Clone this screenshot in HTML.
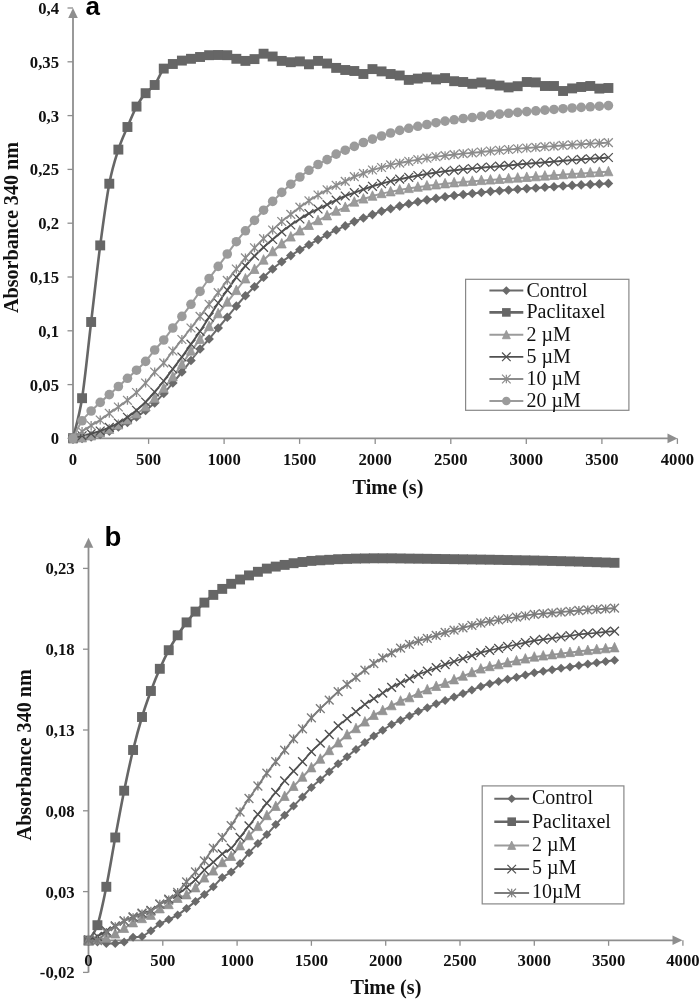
<!DOCTYPE html><html><head><meta charset="utf-8"><style>html,body{margin:0;padding:0;background:#fff}svg{display:block;filter:blur(0.4px)}</style></head><body><svg width="699" height="999" viewBox="0 0 699 999"><rect width="699" height="999" fill="#fff"/><line x1="73.0" y1="14.0" x2="73.0" y2="438.4" stroke="#8e8e8e" stroke-width="1.8"/><path d="M73.0 8.0L77.8 18.0L68.2 18.0Z" fill="#8e8e8e"/><line x1="72.0" y1="438.4" x2="671.5" y2="438.4" stroke="#8e8e8e" stroke-width="1.8"/><path d="M677.5 438.4L667.5 433.6L667.5 443.2Z" fill="#8e8e8e"/><line x1="67.5" y1="438.4" x2="73.0" y2="438.4" stroke="#8e8e8e" stroke-width="1.3"/><line x1="67.5" y1="384.6" x2="73.0" y2="384.6" stroke="#8e8e8e" stroke-width="1.3"/><line x1="67.5" y1="330.8" x2="73.0" y2="330.8" stroke="#8e8e8e" stroke-width="1.3"/><line x1="67.5" y1="277.0" x2="73.0" y2="277.0" stroke="#8e8e8e" stroke-width="1.3"/><line x1="67.5" y1="223.2" x2="73.0" y2="223.2" stroke="#8e8e8e" stroke-width="1.3"/><line x1="67.5" y1="169.4" x2="73.0" y2="169.4" stroke="#8e8e8e" stroke-width="1.3"/><line x1="67.5" y1="115.6" x2="73.0" y2="115.6" stroke="#8e8e8e" stroke-width="1.3"/><line x1="67.5" y1="61.8" x2="73.0" y2="61.8" stroke="#8e8e8e" stroke-width="1.3"/><line x1="67.5" y1="8.0" x2="73.0" y2="8.0" stroke="#8e8e8e" stroke-width="1.3"/><line x1="73.0" y1="438.4" x2="73.0" y2="443.9" stroke="#8e8e8e" stroke-width="1.3"/><line x1="148.6" y1="438.4" x2="148.6" y2="443.9" stroke="#8e8e8e" stroke-width="1.3"/><line x1="224.1" y1="438.4" x2="224.1" y2="443.9" stroke="#8e8e8e" stroke-width="1.3"/><line x1="299.6" y1="438.4" x2="299.6" y2="443.9" stroke="#8e8e8e" stroke-width="1.3"/><line x1="375.2" y1="438.4" x2="375.2" y2="443.9" stroke="#8e8e8e" stroke-width="1.3"/><line x1="450.8" y1="438.4" x2="450.8" y2="443.9" stroke="#8e8e8e" stroke-width="1.3"/><line x1="526.3" y1="438.4" x2="526.3" y2="443.9" stroke="#8e8e8e" stroke-width="1.3"/><line x1="601.9" y1="438.4" x2="601.9" y2="443.9" stroke="#8e8e8e" stroke-width="1.3"/><line x1="677.4" y1="438.4" x2="677.4" y2="443.9" stroke="#8e8e8e" stroke-width="1.3"/><line x1="88.5" y1="543.8" x2="88.5" y2="972.6" stroke="#8e8e8e" stroke-width="1.8"/><path d="M88.5 537.8L93.3 547.8L83.7 547.8Z" fill="#8e8e8e"/><line x1="87.5" y1="940.3" x2="676.5" y2="940.3" stroke="#8e8e8e" stroke-width="1.8"/><path d="M682.5 940.3L672.5 935.5L672.5 945.1Z" fill="#8e8e8e"/><line x1="83.0" y1="972.4" x2="88.5" y2="972.4" stroke="#8e8e8e" stroke-width="1.3"/><line x1="83.0" y1="891.6" x2="88.5" y2="891.6" stroke="#8e8e8e" stroke-width="1.3"/><line x1="83.0" y1="810.8" x2="88.5" y2="810.8" stroke="#8e8e8e" stroke-width="1.3"/><line x1="83.0" y1="730.0" x2="88.5" y2="730.0" stroke="#8e8e8e" stroke-width="1.3"/><line x1="83.0" y1="649.2" x2="88.5" y2="649.2" stroke="#8e8e8e" stroke-width="1.3"/><line x1="83.0" y1="568.4" x2="88.5" y2="568.4" stroke="#8e8e8e" stroke-width="1.3"/><line x1="88.5" y1="940.3" x2="88.5" y2="945.8" stroke="#8e8e8e" stroke-width="1.3"/><line x1="162.8" y1="940.3" x2="162.8" y2="945.8" stroke="#8e8e8e" stroke-width="1.3"/><line x1="237.1" y1="940.3" x2="237.1" y2="945.8" stroke="#8e8e8e" stroke-width="1.3"/><line x1="311.4" y1="940.3" x2="311.4" y2="945.8" stroke="#8e8e8e" stroke-width="1.3"/><line x1="385.7" y1="940.3" x2="385.7" y2="945.8" stroke="#8e8e8e" stroke-width="1.3"/><line x1="460.0" y1="940.3" x2="460.0" y2="945.8" stroke="#8e8e8e" stroke-width="1.3"/><line x1="534.3" y1="940.3" x2="534.3" y2="945.8" stroke="#8e8e8e" stroke-width="1.3"/><line x1="608.6" y1="940.3" x2="608.6" y2="945.8" stroke="#8e8e8e" stroke-width="1.3"/><line x1="682.9" y1="940.3" x2="682.9" y2="945.8" stroke="#8e8e8e" stroke-width="1.3"/><text x="59.0" y="444.4" text-anchor="end" style="font-family:'Liberation Serif',serif;font-weight:bold;font-size:16.7px;fill:#111">0</text><text x="59.0" y="390.6" text-anchor="end" style="font-family:'Liberation Serif',serif;font-weight:bold;font-size:16.7px;fill:#111">0,05</text><text x="59.0" y="336.8" text-anchor="end" style="font-family:'Liberation Serif',serif;font-weight:bold;font-size:16.7px;fill:#111">0,1</text><text x="59.0" y="283.0" text-anchor="end" style="font-family:'Liberation Serif',serif;font-weight:bold;font-size:16.7px;fill:#111">0,15</text><text x="59.0" y="229.2" text-anchor="end" style="font-family:'Liberation Serif',serif;font-weight:bold;font-size:16.7px;fill:#111">0,2</text><text x="59.0" y="175.4" text-anchor="end" style="font-family:'Liberation Serif',serif;font-weight:bold;font-size:16.7px;fill:#111">0,25</text><text x="59.0" y="121.6" text-anchor="end" style="font-family:'Liberation Serif',serif;font-weight:bold;font-size:16.7px;fill:#111">0,3</text><text x="59.0" y="67.8" text-anchor="end" style="font-family:'Liberation Serif',serif;font-weight:bold;font-size:16.7px;fill:#111">0,35</text><text x="59.0" y="14.0" text-anchor="end" style="font-family:'Liberation Serif',serif;font-weight:bold;font-size:16.7px;fill:#111">0,4</text><text x="73.0" y="465" text-anchor="middle" style="font-family:'Liberation Serif',serif;font-weight:bold;font-size:16.7px;fill:#111">0</text><text x="148.6" y="465" text-anchor="middle" style="font-family:'Liberation Serif',serif;font-weight:bold;font-size:16.7px;fill:#111">500</text><text x="224.1" y="465" text-anchor="middle" style="font-family:'Liberation Serif',serif;font-weight:bold;font-size:16.7px;fill:#111">1000</text><text x="299.6" y="465" text-anchor="middle" style="font-family:'Liberation Serif',serif;font-weight:bold;font-size:16.7px;fill:#111">1500</text><text x="375.2" y="465" text-anchor="middle" style="font-family:'Liberation Serif',serif;font-weight:bold;font-size:16.7px;fill:#111">2000</text><text x="450.8" y="465" text-anchor="middle" style="font-family:'Liberation Serif',serif;font-weight:bold;font-size:16.7px;fill:#111">2500</text><text x="526.3" y="465" text-anchor="middle" style="font-family:'Liberation Serif',serif;font-weight:bold;font-size:16.7px;fill:#111">3000</text><text x="601.9" y="465" text-anchor="middle" style="font-family:'Liberation Serif',serif;font-weight:bold;font-size:16.7px;fill:#111">3500</text><text x="677.4" y="465" text-anchor="middle" style="font-family:'Liberation Serif',serif;font-weight:bold;font-size:16.7px;fill:#111">4000</text><text x="74.6" y="978.3" text-anchor="end" style="font-family:'Liberation Serif',serif;font-weight:bold;font-size:16.7px;fill:#111">-0,02</text><text x="74.6" y="897.5" text-anchor="end" style="font-family:'Liberation Serif',serif;font-weight:bold;font-size:16.7px;fill:#111">0,03</text><text x="74.6" y="816.7" text-anchor="end" style="font-family:'Liberation Serif',serif;font-weight:bold;font-size:16.7px;fill:#111">0,08</text><text x="74.6" y="735.9" text-anchor="end" style="font-family:'Liberation Serif',serif;font-weight:bold;font-size:16.7px;fill:#111">0,13</text><text x="74.6" y="655.1" text-anchor="end" style="font-family:'Liberation Serif',serif;font-weight:bold;font-size:16.7px;fill:#111">0,18</text><text x="74.6" y="574.3" text-anchor="end" style="font-family:'Liberation Serif',serif;font-weight:bold;font-size:16.7px;fill:#111">0,23</text><text x="88.5" y="965.6" text-anchor="middle" style="font-family:'Liberation Serif',serif;font-weight:bold;font-size:16.7px;fill:#111">0</text><text x="162.8" y="965.6" text-anchor="middle" style="font-family:'Liberation Serif',serif;font-weight:bold;font-size:16.7px;fill:#111">500</text><text x="237.1" y="965.6" text-anchor="middle" style="font-family:'Liberation Serif',serif;font-weight:bold;font-size:16.7px;fill:#111">1000</text><text x="311.4" y="965.6" text-anchor="middle" style="font-family:'Liberation Serif',serif;font-weight:bold;font-size:16.7px;fill:#111">1500</text><text x="385.7" y="965.6" text-anchor="middle" style="font-family:'Liberation Serif',serif;font-weight:bold;font-size:16.7px;fill:#111">2000</text><text x="460.0" y="965.6" text-anchor="middle" style="font-family:'Liberation Serif',serif;font-weight:bold;font-size:16.7px;fill:#111">2500</text><text x="534.3" y="965.6" text-anchor="middle" style="font-family:'Liberation Serif',serif;font-weight:bold;font-size:16.7px;fill:#111">3000</text><text x="608.6" y="965.6" text-anchor="middle" style="font-family:'Liberation Serif',serif;font-weight:bold;font-size:16.7px;fill:#111">3500</text><text x="682.9" y="965.6" text-anchor="middle" style="font-family:'Liberation Serif',serif;font-weight:bold;font-size:16.7px;fill:#111">4000</text><text x="388" y="493.7" text-anchor="middle" style="font-family:'Liberation Serif',serif;font-weight:bold;font-size:20.2px;fill:#111">Time (s)</text><text x="386" y="993.6" text-anchor="middle" style="font-family:'Liberation Serif',serif;font-weight:bold;font-size:20.2px;fill:#111">Time (s)</text><text transform="translate(17.6 227.5) rotate(-90)" text-anchor="middle" style="font-family:'Liberation Serif',serif;font-weight:bold;font-size:20.15px;fill:#111">Absorbance 340 nm</text><text transform="translate(31.2 754.8) rotate(-90)" text-anchor="middle" style="font-family:'Liberation Serif',serif;font-weight:bold;font-size:20.15px;fill:#111">Absorbance 340 nm</text><text x="85.5" y="15.0" style="font-family:'Liberation Sans',sans-serif;font-weight:bold;font-size:26px;fill:#000">a</text><text x="104.4" y="546.4" style="font-family:'Liberation Sans',sans-serif;font-weight:bold;font-size:27.6px;fill:#000">b</text><path d="M73.00 438.40C74.51 438.40 79.05 438.63 82.08 438.40C85.10 438.17 88.12 437.65 91.15 437.00C94.18 436.35 97.20 435.47 100.22 434.50C103.25 433.53 106.27 432.45 109.30 431.20C112.33 429.95 115.35 428.45 118.38 427.00C121.40 425.55 124.42 424.17 127.45 422.50C130.47 420.83 133.50 419.00 136.52 417.00C139.55 415.00 142.57 412.83 145.60 410.50C148.62 408.17 151.65 405.83 154.68 403.00C157.70 400.17 160.72 396.83 163.75 393.50C166.78 390.17 169.80 386.58 172.82 383.00C175.85 379.42 178.87 375.75 181.90 372.00C184.92 368.25 187.95 364.33 190.97 360.50C194.00 356.67 197.02 352.58 200.05 349.00C203.07 345.42 206.10 342.50 209.12 339.00C212.15 335.50 215.17 331.63 218.20 328.00C221.22 324.37 224.25 320.85 227.27 317.20C230.30 313.55 233.32 309.67 236.35 306.10C239.38 302.53 242.40 299.02 245.42 295.80C248.45 292.58 251.47 289.88 254.50 286.80C257.52 283.72 260.55 280.27 263.57 277.30C266.60 274.33 269.62 271.58 272.65 269.00C275.67 266.42 278.70 264.03 281.73 261.80C284.75 259.57 287.77 257.60 290.80 255.60C293.82 253.60 296.85 251.62 299.88 249.80C302.90 247.98 305.93 246.40 308.95 244.70C311.97 243.00 315.00 241.25 318.02 239.60C321.05 237.95 324.07 236.40 327.10 234.80C330.12 233.20 333.15 231.48 336.17 230.00C339.20 228.52 342.23 227.30 345.25 225.90C348.27 224.50 351.30 222.92 354.32 221.60C357.35 220.28 360.38 219.17 363.40 218.00C366.42 216.83 369.45 215.72 372.47 214.60C375.50 213.48 378.52 212.28 381.55 211.30C384.57 210.32 387.60 209.57 390.62 208.70C393.65 207.83 396.68 206.92 399.70 206.10C402.72 205.28 405.75 204.53 408.77 203.80C411.80 203.07 414.82 202.35 417.85 201.70C420.87 201.05 423.90 200.45 426.92 199.90C429.95 199.35 432.98 198.92 436.00 198.40C439.02 197.88 442.05 197.28 445.07 196.80C448.10 196.32 451.12 195.88 454.15 195.50C457.17 195.12 460.20 194.83 463.22 194.50C466.25 194.17 469.27 193.83 472.30 193.50C475.32 193.17 478.35 192.85 481.37 192.50C484.40 192.15 487.42 191.70 490.45 191.40C493.48 191.10 496.50 190.93 499.52 190.70C502.55 190.47 505.57 190.23 508.60 190.00C511.62 189.77 514.65 189.53 517.67 189.30C520.70 189.07 523.73 188.82 526.75 188.60C529.77 188.38 532.80 188.17 535.83 187.96C538.85 187.75 541.88 187.53 544.90 187.32C547.92 187.11 550.95 186.89 553.97 186.68C557.00 186.47 560.02 186.25 563.05 186.04C566.07 185.83 569.10 185.59 572.12 185.40C575.15 185.21 578.17 185.07 581.20 184.90C584.22 184.73 587.25 184.57 590.27 184.40C593.30 184.23 596.32 184.07 599.35 183.90C602.37 183.73 606.91 183.48 608.42 183.40" fill="none" stroke="#6a6a6a" stroke-width="2.00" stroke-linejoin="round"/><path d="M73.00 433.60L77.80 438.40L73.00 443.20L68.20 438.40Z" fill="#6a6a6a"/><path d="M82.08 433.60L86.88 438.40L82.08 443.20L77.28 438.40Z" fill="#6a6a6a"/><path d="M91.15 432.20L95.95 437.00L91.15 441.80L86.35 437.00Z" fill="#6a6a6a"/><path d="M100.22 429.70L105.02 434.50L100.22 439.30L95.42 434.50Z" fill="#6a6a6a"/><path d="M109.30 426.40L114.10 431.20L109.30 436.00L104.50 431.20Z" fill="#6a6a6a"/><path d="M118.38 422.20L123.17 427.00L118.38 431.80L113.58 427.00Z" fill="#6a6a6a"/><path d="M127.45 417.70L132.25 422.50L127.45 427.30L122.65 422.50Z" fill="#6a6a6a"/><path d="M136.52 412.20L141.32 417.00L136.52 421.80L131.72 417.00Z" fill="#6a6a6a"/><path d="M145.60 405.70L150.40 410.50L145.60 415.30L140.80 410.50Z" fill="#6a6a6a"/><path d="M154.68 398.20L159.48 403.00L154.68 407.80L149.88 403.00Z" fill="#6a6a6a"/><path d="M163.75 388.70L168.55 393.50L163.75 398.30L158.95 393.50Z" fill="#6a6a6a"/><path d="M172.82 378.20L177.62 383.00L172.82 387.80L168.02 383.00Z" fill="#6a6a6a"/><path d="M181.90 367.20L186.70 372.00L181.90 376.80L177.10 372.00Z" fill="#6a6a6a"/><path d="M190.97 355.70L195.78 360.50L190.97 365.30L186.17 360.50Z" fill="#6a6a6a"/><path d="M200.05 344.20L204.85 349.00L200.05 353.80L195.25 349.00Z" fill="#6a6a6a"/><path d="M209.12 334.20L213.93 339.00L209.12 343.80L204.32 339.00Z" fill="#6a6a6a"/><path d="M218.20 323.20L223.00 328.00L218.20 332.80L213.40 328.00Z" fill="#6a6a6a"/><path d="M227.27 312.40L232.07 317.20L227.27 322.00L222.47 317.20Z" fill="#6a6a6a"/><path d="M236.35 301.30L241.15 306.10L236.35 310.90L231.55 306.10Z" fill="#6a6a6a"/><path d="M245.42 291.00L250.22 295.80L245.42 300.60L240.62 295.80Z" fill="#6a6a6a"/><path d="M254.50 282.00L259.30 286.80L254.50 291.60L249.70 286.80Z" fill="#6a6a6a"/><path d="M263.57 272.50L268.38 277.30L263.57 282.10L258.77 277.30Z" fill="#6a6a6a"/><path d="M272.65 264.20L277.45 269.00L272.65 273.80L267.85 269.00Z" fill="#6a6a6a"/><path d="M281.73 257.00L286.53 261.80L281.73 266.60L276.93 261.80Z" fill="#6a6a6a"/><path d="M290.80 250.80L295.60 255.60L290.80 260.40L286.00 255.60Z" fill="#6a6a6a"/><path d="M299.88 245.00L304.68 249.80L299.88 254.60L295.07 249.80Z" fill="#6a6a6a"/><path d="M308.95 239.90L313.75 244.70L308.95 249.50L304.15 244.70Z" fill="#6a6a6a"/><path d="M318.02 234.80L322.82 239.60L318.02 244.40L313.22 239.60Z" fill="#6a6a6a"/><path d="M327.10 230.00L331.90 234.80L327.10 239.60L322.30 234.80Z" fill="#6a6a6a"/><path d="M336.17 225.20L340.97 230.00L336.17 234.80L331.37 230.00Z" fill="#6a6a6a"/><path d="M345.25 221.10L350.05 225.90L345.25 230.70L340.45 225.90Z" fill="#6a6a6a"/><path d="M354.32 216.80L359.12 221.60L354.32 226.40L349.52 221.60Z" fill="#6a6a6a"/><path d="M363.40 213.20L368.20 218.00L363.40 222.80L358.60 218.00Z" fill="#6a6a6a"/><path d="M372.47 209.80L377.27 214.60L372.47 219.40L367.67 214.60Z" fill="#6a6a6a"/><path d="M381.55 206.50L386.35 211.30L381.55 216.10L376.75 211.30Z" fill="#6a6a6a"/><path d="M390.62 203.90L395.43 208.70L390.62 213.50L385.82 208.70Z" fill="#6a6a6a"/><path d="M399.70 201.30L404.50 206.10L399.70 210.90L394.90 206.10Z" fill="#6a6a6a"/><path d="M408.77 199.00L413.57 203.80L408.77 208.60L403.97 203.80Z" fill="#6a6a6a"/><path d="M417.85 196.90L422.65 201.70L417.85 206.50L413.05 201.70Z" fill="#6a6a6a"/><path d="M426.92 195.10L431.72 199.90L426.92 204.70L422.12 199.90Z" fill="#6a6a6a"/><path d="M436.00 193.60L440.80 198.40L436.00 203.20L431.20 198.40Z" fill="#6a6a6a"/><path d="M445.07 192.00L449.88 196.80L445.07 201.60L440.27 196.80Z" fill="#6a6a6a"/><path d="M454.15 190.70L458.95 195.50L454.15 200.30L449.35 195.50Z" fill="#6a6a6a"/><path d="M463.22 189.70L468.02 194.50L463.22 199.30L458.42 194.50Z" fill="#6a6a6a"/><path d="M472.30 188.70L477.10 193.50L472.30 198.30L467.50 193.50Z" fill="#6a6a6a"/><path d="M481.37 187.70L486.17 192.50L481.37 197.30L476.57 192.50Z" fill="#6a6a6a"/><path d="M490.45 186.60L495.25 191.40L490.45 196.20L485.65 191.40Z" fill="#6a6a6a"/><path d="M499.52 185.90L504.32 190.70L499.52 195.50L494.72 190.70Z" fill="#6a6a6a"/><path d="M508.60 185.20L513.40 190.00L508.60 194.80L503.80 190.00Z" fill="#6a6a6a"/><path d="M517.67 184.50L522.47 189.30L517.67 194.10L512.88 189.30Z" fill="#6a6a6a"/><path d="M526.75 183.80L531.55 188.60L526.75 193.40L521.95 188.60Z" fill="#6a6a6a"/><path d="M535.83 183.16L540.62 187.96L535.83 192.76L531.03 187.96Z" fill="#6a6a6a"/><path d="M544.90 182.52L549.70 187.32L544.90 192.12L540.10 187.32Z" fill="#6a6a6a"/><path d="M553.97 181.88L558.77 186.68L553.97 191.48L549.17 186.68Z" fill="#6a6a6a"/><path d="M563.05 181.24L567.85 186.04L563.05 190.84L558.25 186.04Z" fill="#6a6a6a"/><path d="M572.12 180.60L576.92 185.40L572.12 190.20L567.33 185.40Z" fill="#6a6a6a"/><path d="M581.20 180.10L586.00 184.90L581.20 189.70L576.40 184.90Z" fill="#6a6a6a"/><path d="M590.27 179.60L595.07 184.40L590.27 189.20L585.48 184.40Z" fill="#6a6a6a"/><path d="M599.35 179.10L604.15 183.90L599.35 188.70L594.55 183.90Z" fill="#6a6a6a"/><path d="M608.42 178.60L613.22 183.40L608.42 188.20L603.62 183.40Z" fill="#6a6a6a"/><path d="M73.00 438.20C74.51 431.53 79.05 417.57 82.08 398.20C85.10 378.83 88.12 347.47 91.15 322.00C94.18 296.53 97.20 268.45 100.22 245.40C103.25 222.35 106.27 199.67 109.30 183.70C112.33 167.73 115.35 159.05 118.38 149.60C121.40 140.15 124.42 134.17 127.45 127.00C130.47 119.83 133.50 112.23 136.52 106.60C139.55 100.97 142.57 96.80 145.60 93.20C148.62 89.60 151.65 89.10 154.68 85.00C157.70 80.90 160.72 72.10 163.75 68.60C166.78 65.10 169.80 65.33 172.82 64.00C175.85 62.67 178.87 61.47 181.90 60.60C184.92 59.73 187.95 59.40 190.97 58.80C194.00 58.20 197.02 57.60 200.05 57.00C203.07 56.40 206.10 55.53 209.12 55.20C212.15 54.87 215.17 55.00 218.20 55.00C221.22 55.00 224.25 54.57 227.27 55.20C230.30 55.83 233.32 57.85 236.35 58.80C239.38 59.75 242.40 60.85 245.42 60.90C248.45 60.95 251.47 60.30 254.50 59.10C257.52 57.90 260.55 54.13 263.57 53.70C266.60 53.27 269.62 55.30 272.65 56.50C275.67 57.70 278.70 59.95 281.73 60.90C284.75 61.85 287.77 62.12 290.80 62.20C293.82 62.28 296.85 61.05 299.88 61.40C302.90 61.75 305.93 64.38 308.95 64.30C311.97 64.22 315.00 61.03 318.02 60.90C321.05 60.77 324.07 62.33 327.10 63.50C330.12 64.67 333.15 66.82 336.17 67.90C339.20 68.98 342.23 69.48 345.25 70.00C348.27 70.52 351.30 70.33 354.32 71.00C357.35 71.67 360.38 74.32 363.40 74.00C366.42 73.68 369.45 69.53 372.47 69.10C375.50 68.67 378.52 70.58 381.55 71.40C384.57 72.22 387.60 73.32 390.62 74.00C393.65 74.68 396.68 74.52 399.70 75.50C402.72 76.48 405.75 79.38 408.77 79.90C411.80 80.42 414.82 79.03 417.85 78.60C420.87 78.17 423.90 77.17 426.92 77.30C429.95 77.43 432.98 79.27 436.00 79.40C439.02 79.53 442.05 77.80 445.07 78.10C448.10 78.40 451.12 80.55 454.15 81.20C457.17 81.85 460.20 81.57 463.22 82.00C466.25 82.43 469.27 83.72 472.30 83.80C475.32 83.88 478.35 82.42 481.37 82.50C484.40 82.58 487.42 83.78 490.45 84.30C493.48 84.82 496.50 85.08 499.52 85.60C502.55 86.12 505.57 87.30 508.60 87.40C511.62 87.50 514.65 87.10 517.67 86.20C520.70 85.30 523.73 82.63 526.75 82.00C529.77 81.37 532.80 81.73 535.83 82.40C538.85 83.07 541.88 85.40 544.90 86.00C547.92 86.60 550.95 85.17 553.97 86.00C557.00 86.83 560.02 90.60 563.05 91.00C566.07 91.40 569.10 89.07 572.12 88.40C575.15 87.73 578.17 87.40 581.20 87.00C584.22 86.60 587.25 85.73 590.27 86.00C593.30 86.27 596.32 88.27 599.35 88.60C602.37 88.93 606.91 88.10 608.42 88.00" fill="none" stroke="#666666" stroke-width="2.60" stroke-linejoin="round"/><rect x="68.05" y="433.25" width="9.90" height="9.90" fill="#666666"/><rect x="77.12" y="393.25" width="9.90" height="9.90" fill="#666666"/><rect x="86.20" y="317.05" width="9.90" height="9.90" fill="#666666"/><rect x="95.27" y="240.45" width="9.90" height="9.90" fill="#666666"/><rect x="104.35" y="178.75" width="9.90" height="9.90" fill="#666666"/><rect x="113.42" y="144.65" width="9.90" height="9.90" fill="#666666"/><rect x="122.50" y="122.05" width="9.90" height="9.90" fill="#666666"/><rect x="131.57" y="101.65" width="9.90" height="9.90" fill="#666666"/><rect x="140.65" y="88.25" width="9.90" height="9.90" fill="#666666"/><rect x="149.73" y="80.05" width="9.90" height="9.90" fill="#666666"/><rect x="158.80" y="63.65" width="9.90" height="9.90" fill="#666666"/><rect x="167.88" y="59.05" width="9.90" height="9.90" fill="#666666"/><rect x="176.95" y="55.65" width="9.90" height="9.90" fill="#666666"/><rect x="186.03" y="53.85" width="9.90" height="9.90" fill="#666666"/><rect x="195.10" y="52.05" width="9.90" height="9.90" fill="#666666"/><rect x="204.18" y="50.25" width="9.90" height="9.90" fill="#666666"/><rect x="213.25" y="50.05" width="9.90" height="9.90" fill="#666666"/><rect x="222.32" y="50.25" width="9.90" height="9.90" fill="#666666"/><rect x="231.40" y="53.85" width="9.90" height="9.90" fill="#666666"/><rect x="240.47" y="55.95" width="9.90" height="9.90" fill="#666666"/><rect x="249.55" y="54.15" width="9.90" height="9.90" fill="#666666"/><rect x="258.62" y="48.75" width="9.90" height="9.90" fill="#666666"/><rect x="267.70" y="51.55" width="9.90" height="9.90" fill="#666666"/><rect x="276.78" y="55.95" width="9.90" height="9.90" fill="#666666"/><rect x="285.85" y="57.25" width="9.90" height="9.90" fill="#666666"/><rect x="294.93" y="56.45" width="9.90" height="9.90" fill="#666666"/><rect x="304.00" y="59.35" width="9.90" height="9.90" fill="#666666"/><rect x="313.07" y="55.95" width="9.90" height="9.90" fill="#666666"/><rect x="322.15" y="58.55" width="9.90" height="9.90" fill="#666666"/><rect x="331.22" y="62.95" width="9.90" height="9.90" fill="#666666"/><rect x="340.30" y="65.05" width="9.90" height="9.90" fill="#666666"/><rect x="349.38" y="66.05" width="9.90" height="9.90" fill="#666666"/><rect x="358.45" y="69.05" width="9.90" height="9.90" fill="#666666"/><rect x="367.52" y="64.15" width="9.90" height="9.90" fill="#666666"/><rect x="376.60" y="66.45" width="9.90" height="9.90" fill="#666666"/><rect x="385.68" y="69.05" width="9.90" height="9.90" fill="#666666"/><rect x="394.75" y="70.55" width="9.90" height="9.90" fill="#666666"/><rect x="403.82" y="74.95" width="9.90" height="9.90" fill="#666666"/><rect x="412.90" y="73.65" width="9.90" height="9.90" fill="#666666"/><rect x="421.97" y="72.35" width="9.90" height="9.90" fill="#666666"/><rect x="431.05" y="74.45" width="9.90" height="9.90" fill="#666666"/><rect x="440.12" y="73.15" width="9.90" height="9.90" fill="#666666"/><rect x="449.20" y="76.25" width="9.90" height="9.90" fill="#666666"/><rect x="458.27" y="77.05" width="9.90" height="9.90" fill="#666666"/><rect x="467.35" y="78.85" width="9.90" height="9.90" fill="#666666"/><rect x="476.42" y="77.55" width="9.90" height="9.90" fill="#666666"/><rect x="485.50" y="79.35" width="9.90" height="9.90" fill="#666666"/><rect x="494.57" y="80.65" width="9.90" height="9.90" fill="#666666"/><rect x="503.65" y="82.45" width="9.90" height="9.90" fill="#666666"/><rect x="512.72" y="81.25" width="9.90" height="9.90" fill="#666666"/><rect x="521.80" y="77.05" width="9.90" height="9.90" fill="#666666"/><rect x="530.88" y="77.45" width="9.90" height="9.90" fill="#666666"/><rect x="539.95" y="81.05" width="9.90" height="9.90" fill="#666666"/><rect x="549.02" y="81.05" width="9.90" height="9.90" fill="#666666"/><rect x="558.10" y="86.05" width="9.90" height="9.90" fill="#666666"/><rect x="567.17" y="83.45" width="9.90" height="9.90" fill="#666666"/><rect x="576.25" y="82.05" width="9.90" height="9.90" fill="#666666"/><rect x="585.32" y="81.05" width="9.90" height="9.90" fill="#666666"/><rect x="594.40" y="83.65" width="9.90" height="9.90" fill="#666666"/><rect x="603.47" y="83.05" width="9.90" height="9.90" fill="#666666"/><path d="M73.00 438.80C74.51 438.65 79.05 438.38 82.08 437.90C85.10 437.42 88.12 436.73 91.15 435.90C94.18 435.07 97.20 433.98 100.22 432.90C103.25 431.82 106.27 430.73 109.30 429.40C112.33 428.07 115.35 426.48 118.38 424.90C121.40 423.32 124.42 421.73 127.45 419.90C130.47 418.07 133.50 416.07 136.52 413.90C139.55 411.73 142.57 409.48 145.60 406.90C148.62 404.32 151.65 401.48 154.68 398.40C157.70 395.32 160.72 391.98 163.75 388.40C166.78 384.82 169.80 380.90 172.82 376.90C175.85 372.90 178.87 368.70 181.90 364.40C184.92 360.10 187.95 355.27 190.97 351.10C194.00 346.93 197.02 343.48 200.05 339.40C203.07 335.32 206.10 330.88 209.12 326.60C212.15 322.32 215.17 317.78 218.20 313.70C221.22 309.62 224.25 305.97 227.27 302.10C230.30 298.23 233.32 294.37 236.35 290.50C239.38 286.63 242.40 282.42 245.42 278.90C248.45 275.38 251.47 272.53 254.50 269.40C257.52 266.27 260.55 263.05 263.57 260.10C266.60 257.15 269.62 254.40 272.65 251.70C275.67 249.00 278.70 246.35 281.73 243.90C284.75 241.45 287.77 239.17 290.80 237.00C293.82 234.83 296.85 232.83 299.88 230.90C302.90 228.97 305.93 227.12 308.95 225.40C311.97 223.68 315.00 222.20 318.02 220.60C321.05 219.00 324.07 217.37 327.10 215.80C330.12 214.23 333.15 212.60 336.17 211.20C339.20 209.80 342.23 208.92 345.25 207.40C348.27 205.88 351.30 203.50 354.32 202.10C357.35 200.70 360.38 199.98 363.40 199.00C366.42 198.02 369.45 197.10 372.47 196.20C375.50 195.30 378.52 194.33 381.55 193.60C384.57 192.87 387.60 192.40 390.62 191.80C393.65 191.20 396.68 190.55 399.70 190.00C402.72 189.45 405.75 188.97 408.77 188.50C411.80 188.03 414.82 187.63 417.85 187.20C420.87 186.77 423.90 186.28 426.92 185.90C429.95 185.52 432.98 185.25 436.00 184.90C439.02 184.55 442.05 184.15 445.07 183.80C448.10 183.45 451.12 183.10 454.15 182.80C457.17 182.50 460.20 182.25 463.22 182.00C466.25 181.75 469.27 181.55 472.30 181.30C475.32 181.05 478.35 180.72 481.37 180.50C484.40 180.28 487.42 180.19 490.45 180.00C493.48 179.81 496.50 179.57 499.52 179.35C502.55 179.13 505.57 178.92 508.60 178.70C511.62 178.48 514.65 178.27 517.67 178.05C520.70 177.83 523.73 177.62 526.75 177.40C529.77 177.18 532.80 176.95 535.83 176.72C538.85 176.49 541.88 176.27 544.90 176.04C547.92 175.81 550.95 175.59 553.97 175.36C557.00 175.13 560.02 174.91 563.05 174.68C566.07 174.45 569.10 174.21 572.12 174.00C575.15 173.79 578.17 173.62 581.20 173.43C584.22 173.23 587.25 173.04 590.27 172.85C593.30 172.66 596.32 172.47 599.35 172.28C602.37 172.08 606.91 171.80 608.42 171.70" fill="none" stroke="#9b9b9b" stroke-width="2.00" stroke-linejoin="round"/><path d="M73.00 433.35L77.51 442.90L68.49 442.90Z" fill="#9b9b9b" stroke="#909090" stroke-width="0.7" stroke-linejoin="miter"/><path d="M82.08 432.45L86.59 442.00L77.56 442.00Z" fill="#9b9b9b" stroke="#909090" stroke-width="0.7" stroke-linejoin="miter"/><path d="M91.15 430.45L95.66 440.00L86.64 440.00Z" fill="#9b9b9b" stroke="#909090" stroke-width="0.7" stroke-linejoin="miter"/><path d="M100.22 427.45L104.74 437.00L95.71 437.00Z" fill="#9b9b9b" stroke="#909090" stroke-width="0.7" stroke-linejoin="miter"/><path d="M109.30 423.95L113.81 433.50L104.79 433.50Z" fill="#9b9b9b" stroke="#909090" stroke-width="0.7" stroke-linejoin="miter"/><path d="M118.38 419.45L122.89 429.00L113.86 429.00Z" fill="#9b9b9b" stroke="#909090" stroke-width="0.7" stroke-linejoin="miter"/><path d="M127.45 414.45L131.96 424.00L122.94 424.00Z" fill="#9b9b9b" stroke="#909090" stroke-width="0.7" stroke-linejoin="miter"/><path d="M136.52 408.45L141.04 418.00L132.01 418.00Z" fill="#9b9b9b" stroke="#909090" stroke-width="0.7" stroke-linejoin="miter"/><path d="M145.60 401.45L150.11 411.00L141.09 411.00Z" fill="#9b9b9b" stroke="#909090" stroke-width="0.7" stroke-linejoin="miter"/><path d="M154.68 392.95L159.19 402.50L150.16 402.50Z" fill="#9b9b9b" stroke="#909090" stroke-width="0.7" stroke-linejoin="miter"/><path d="M163.75 382.95L168.26 392.50L159.24 392.50Z" fill="#9b9b9b" stroke="#909090" stroke-width="0.7" stroke-linejoin="miter"/><path d="M172.82 371.45L177.34 381.00L168.31 381.00Z" fill="#9b9b9b" stroke="#909090" stroke-width="0.7" stroke-linejoin="miter"/><path d="M181.90 358.95L186.41 368.50L177.39 368.50Z" fill="#9b9b9b" stroke="#909090" stroke-width="0.7" stroke-linejoin="miter"/><path d="M190.97 345.65L195.49 355.20L186.46 355.20Z" fill="#9b9b9b" stroke="#909090" stroke-width="0.7" stroke-linejoin="miter"/><path d="M200.05 333.95L204.56 343.50L195.54 343.50Z" fill="#9b9b9b" stroke="#909090" stroke-width="0.7" stroke-linejoin="miter"/><path d="M209.12 321.15L213.64 330.70L204.61 330.70Z" fill="#9b9b9b" stroke="#909090" stroke-width="0.7" stroke-linejoin="miter"/><path d="M218.20 308.25L222.71 317.80L213.69 317.80Z" fill="#9b9b9b" stroke="#909090" stroke-width="0.7" stroke-linejoin="miter"/><path d="M227.27 296.65L231.79 306.20L222.76 306.20Z" fill="#9b9b9b" stroke="#909090" stroke-width="0.7" stroke-linejoin="miter"/><path d="M236.35 285.05L240.86 294.60L231.84 294.60Z" fill="#9b9b9b" stroke="#909090" stroke-width="0.7" stroke-linejoin="miter"/><path d="M245.42 273.45L249.94 283.00L240.91 283.00Z" fill="#9b9b9b" stroke="#909090" stroke-width="0.7" stroke-linejoin="miter"/><path d="M254.50 263.95L259.01 273.50L249.99 273.50Z" fill="#9b9b9b" stroke="#909090" stroke-width="0.7" stroke-linejoin="miter"/><path d="M263.57 254.65L268.09 264.20L259.06 264.20Z" fill="#9b9b9b" stroke="#909090" stroke-width="0.7" stroke-linejoin="miter"/><path d="M272.65 246.25L277.16 255.80L268.14 255.80Z" fill="#9b9b9b" stroke="#909090" stroke-width="0.7" stroke-linejoin="miter"/><path d="M281.73 238.45L286.24 248.00L277.21 248.00Z" fill="#9b9b9b" stroke="#909090" stroke-width="0.7" stroke-linejoin="miter"/><path d="M290.80 231.55L295.31 241.10L286.29 241.10Z" fill="#9b9b9b" stroke="#909090" stroke-width="0.7" stroke-linejoin="miter"/><path d="M299.88 225.45L304.39 235.00L295.36 235.00Z" fill="#9b9b9b" stroke="#909090" stroke-width="0.7" stroke-linejoin="miter"/><path d="M308.95 219.95L313.46 229.50L304.44 229.50Z" fill="#9b9b9b" stroke="#909090" stroke-width="0.7" stroke-linejoin="miter"/><path d="M318.02 215.15L322.54 224.70L313.51 224.70Z" fill="#9b9b9b" stroke="#909090" stroke-width="0.7" stroke-linejoin="miter"/><path d="M327.10 210.35L331.61 219.90L322.59 219.90Z" fill="#9b9b9b" stroke="#909090" stroke-width="0.7" stroke-linejoin="miter"/><path d="M336.17 205.75L340.69 215.30L331.66 215.30Z" fill="#9b9b9b" stroke="#909090" stroke-width="0.7" stroke-linejoin="miter"/><path d="M345.25 201.95L349.76 211.50L340.74 211.50Z" fill="#9b9b9b" stroke="#909090" stroke-width="0.7" stroke-linejoin="miter"/><path d="M354.32 196.65L358.84 206.20L349.81 206.20Z" fill="#9b9b9b" stroke="#909090" stroke-width="0.7" stroke-linejoin="miter"/><path d="M363.40 193.55L367.91 203.10L358.89 203.10Z" fill="#9b9b9b" stroke="#909090" stroke-width="0.7" stroke-linejoin="miter"/><path d="M372.47 190.75L376.99 200.30L367.96 200.30Z" fill="#9b9b9b" stroke="#909090" stroke-width="0.7" stroke-linejoin="miter"/><path d="M381.55 188.15L386.06 197.70L377.04 197.70Z" fill="#9b9b9b" stroke="#909090" stroke-width="0.7" stroke-linejoin="miter"/><path d="M390.62 186.35L395.14 195.90L386.11 195.90Z" fill="#9b9b9b" stroke="#909090" stroke-width="0.7" stroke-linejoin="miter"/><path d="M399.70 184.55L404.21 194.10L395.19 194.10Z" fill="#9b9b9b" stroke="#909090" stroke-width="0.7" stroke-linejoin="miter"/><path d="M408.77 183.05L413.29 192.60L404.26 192.60Z" fill="#9b9b9b" stroke="#909090" stroke-width="0.7" stroke-linejoin="miter"/><path d="M417.85 181.75L422.36 191.30L413.34 191.30Z" fill="#9b9b9b" stroke="#909090" stroke-width="0.7" stroke-linejoin="miter"/><path d="M426.92 180.45L431.44 190.00L422.41 190.00Z" fill="#9b9b9b" stroke="#909090" stroke-width="0.7" stroke-linejoin="miter"/><path d="M436.00 179.45L440.51 189.00L431.49 189.00Z" fill="#9b9b9b" stroke="#909090" stroke-width="0.7" stroke-linejoin="miter"/><path d="M445.07 178.35L449.59 187.90L440.56 187.90Z" fill="#9b9b9b" stroke="#909090" stroke-width="0.7" stroke-linejoin="miter"/><path d="M454.15 177.35L458.66 186.90L449.64 186.90Z" fill="#9b9b9b" stroke="#909090" stroke-width="0.7" stroke-linejoin="miter"/><path d="M463.22 176.55L467.74 186.10L458.71 186.10Z" fill="#9b9b9b" stroke="#909090" stroke-width="0.7" stroke-linejoin="miter"/><path d="M472.30 175.85L476.81 185.40L467.79 185.40Z" fill="#9b9b9b" stroke="#909090" stroke-width="0.7" stroke-linejoin="miter"/><path d="M481.37 175.05L485.89 184.60L476.86 184.60Z" fill="#9b9b9b" stroke="#909090" stroke-width="0.7" stroke-linejoin="miter"/><path d="M490.45 174.55L494.96 184.10L485.94 184.10Z" fill="#9b9b9b" stroke="#909090" stroke-width="0.7" stroke-linejoin="miter"/><path d="M499.52 173.90L504.04 183.45L495.01 183.45Z" fill="#9b9b9b" stroke="#909090" stroke-width="0.7" stroke-linejoin="miter"/><path d="M508.60 173.25L513.11 182.80L504.09 182.80Z" fill="#9b9b9b" stroke="#909090" stroke-width="0.7" stroke-linejoin="miter"/><path d="M517.67 172.60L522.19 182.15L513.16 182.15Z" fill="#9b9b9b" stroke="#909090" stroke-width="0.7" stroke-linejoin="miter"/><path d="M526.75 171.95L531.26 181.50L522.24 181.50Z" fill="#9b9b9b" stroke="#909090" stroke-width="0.7" stroke-linejoin="miter"/><path d="M535.83 171.27L540.34 180.82L531.31 180.82Z" fill="#9b9b9b" stroke="#909090" stroke-width="0.7" stroke-linejoin="miter"/><path d="M544.90 170.59L549.41 180.14L540.39 180.14Z" fill="#9b9b9b" stroke="#909090" stroke-width="0.7" stroke-linejoin="miter"/><path d="M553.97 169.91L558.49 179.46L549.46 179.46Z" fill="#9b9b9b" stroke="#909090" stroke-width="0.7" stroke-linejoin="miter"/><path d="M563.05 169.23L567.56 178.78L558.54 178.78Z" fill="#9b9b9b" stroke="#909090" stroke-width="0.7" stroke-linejoin="miter"/><path d="M572.12 168.55L576.64 178.10L567.61 178.10Z" fill="#9b9b9b" stroke="#909090" stroke-width="0.7" stroke-linejoin="miter"/><path d="M581.20 167.98L585.71 177.53L576.69 177.53Z" fill="#9b9b9b" stroke="#909090" stroke-width="0.7" stroke-linejoin="miter"/><path d="M590.27 167.40L594.79 176.95L585.76 176.95Z" fill="#9b9b9b" stroke="#909090" stroke-width="0.7" stroke-linejoin="miter"/><path d="M599.35 166.83L603.86 176.38L594.84 176.38Z" fill="#9b9b9b" stroke="#909090" stroke-width="0.7" stroke-linejoin="miter"/><path d="M608.42 166.25L612.94 175.80L603.91 175.80Z" fill="#9b9b9b" stroke="#909090" stroke-width="0.7" stroke-linejoin="miter"/><path d="M73.00 438.40C74.51 437.97 79.05 436.58 82.08 435.80C85.10 435.02 88.12 434.50 91.15 433.70C94.18 432.90 97.20 432.05 100.22 431.00C103.25 429.95 106.27 428.73 109.30 427.40C112.33 426.07 115.35 424.68 118.38 423.00C121.40 421.32 124.42 419.42 127.45 417.30C130.47 415.18 133.50 412.85 136.52 410.30C139.55 407.75 142.57 405.05 145.60 402.00C148.62 398.95 151.65 395.50 154.68 392.00C157.70 388.50 160.72 384.83 163.75 381.00C166.78 377.17 169.80 373.00 172.82 369.00C175.85 365.00 178.87 361.13 181.90 357.00C184.92 352.87 187.95 348.48 190.97 344.20C194.00 339.92 197.02 335.80 200.05 331.30C203.07 326.80 206.10 321.92 209.12 317.20C212.15 312.48 215.17 307.52 218.20 303.00C221.22 298.48 224.25 294.38 227.27 290.10C230.30 285.82 233.32 281.33 236.35 277.30C239.38 273.27 242.40 269.45 245.42 265.90C248.45 262.35 251.47 259.10 254.50 256.00C257.52 252.90 260.55 250.05 263.57 247.30C266.60 244.55 269.62 242.08 272.65 239.50C275.67 236.92 278.70 234.22 281.73 231.80C284.75 229.38 287.77 227.13 290.80 225.00C293.82 222.87 296.85 220.92 299.88 219.00C302.90 217.08 305.93 215.17 308.95 213.50C311.97 211.83 315.00 210.48 318.02 209.00C321.05 207.52 324.07 206.07 327.10 204.60C330.12 203.13 333.15 201.63 336.17 200.20C339.20 198.77 342.23 197.25 345.25 196.00C348.27 194.75 351.30 193.80 354.32 192.70C357.35 191.60 360.38 190.47 363.40 189.40C366.42 188.33 369.45 187.25 372.47 186.30C375.50 185.35 378.52 184.57 381.55 183.70C384.57 182.83 387.60 181.87 390.62 181.10C393.65 180.33 396.68 179.73 399.70 179.10C402.72 178.47 405.75 177.90 408.77 177.30C411.80 176.70 414.82 176.07 417.85 175.50C420.87 174.93 423.90 174.38 426.92 173.90C429.95 173.42 432.98 173.03 436.00 172.60C439.02 172.17 442.05 171.68 445.07 171.30C448.10 170.92 451.12 170.63 454.15 170.30C457.17 169.97 460.20 169.60 463.22 169.30C466.25 169.00 469.27 168.77 472.30 168.50C475.32 168.23 478.35 167.95 481.37 167.70C484.40 167.45 487.42 167.25 490.45 167.00C493.48 166.75 496.50 166.47 499.52 166.20C502.55 165.93 505.57 165.67 508.60 165.40C511.62 165.13 514.65 164.87 517.67 164.60C520.70 164.33 523.73 164.06 526.75 163.80C529.77 163.54 532.80 163.29 535.83 163.04C538.85 162.79 541.88 162.53 544.90 162.28C547.92 162.03 550.95 161.77 553.97 161.52C557.00 161.27 560.02 161.01 563.05 160.76C566.07 160.51 569.10 160.23 572.12 160.00C575.15 159.77 578.17 159.58 581.20 159.38C584.22 159.17 587.25 158.96 590.27 158.75C593.30 158.54 596.32 158.33 599.35 158.12C602.37 157.92 606.91 157.60 608.42 157.50" fill="none" stroke="#505050" stroke-width="2.00" stroke-linejoin="round"/><path d="M68.60 434.00L77.40 442.80M68.60 442.80L77.40 434.00" stroke="#505050" stroke-width="1.30" fill="none"/><path d="M77.67 431.40L86.48 440.20M77.67 440.20L86.48 431.40" stroke="#505050" stroke-width="1.30" fill="none"/><path d="M86.75 429.30L95.55 438.10M86.75 438.10L95.55 429.30" stroke="#505050" stroke-width="1.30" fill="none"/><path d="M95.82 426.60L104.62 435.40M95.82 435.40L104.62 426.60" stroke="#505050" stroke-width="1.30" fill="none"/><path d="M104.90 423.00L113.70 431.80M104.90 431.80L113.70 423.00" stroke="#505050" stroke-width="1.30" fill="none"/><path d="M113.97 418.60L122.78 427.40M113.97 427.40L122.78 418.60" stroke="#505050" stroke-width="1.30" fill="none"/><path d="M123.05 412.90L131.85 421.70M123.05 421.70L131.85 412.90" stroke="#505050" stroke-width="1.30" fill="none"/><path d="M132.12 405.90L140.92 414.70M132.12 414.70L140.92 405.90" stroke="#505050" stroke-width="1.30" fill="none"/><path d="M141.20 397.60L150.00 406.40M141.20 406.40L150.00 397.60" stroke="#505050" stroke-width="1.30" fill="none"/><path d="M150.28 387.60L159.08 396.40M150.28 396.40L159.08 387.60" stroke="#505050" stroke-width="1.30" fill="none"/><path d="M159.35 376.60L168.15 385.40M159.35 385.40L168.15 376.60" stroke="#505050" stroke-width="1.30" fill="none"/><path d="M168.42 364.60L177.22 373.40M168.42 373.40L177.22 364.60" stroke="#505050" stroke-width="1.30" fill="none"/><path d="M177.50 352.60L186.30 361.40M177.50 361.40L186.30 352.60" stroke="#505050" stroke-width="1.30" fill="none"/><path d="M186.57 339.80L195.38 348.60M186.57 348.60L195.38 339.80" stroke="#505050" stroke-width="1.30" fill="none"/><path d="M195.65 326.90L204.45 335.70M195.65 335.70L204.45 326.90" stroke="#505050" stroke-width="1.30" fill="none"/><path d="M204.72 312.80L213.53 321.60M204.72 321.60L213.53 312.80" stroke="#505050" stroke-width="1.30" fill="none"/><path d="M213.80 298.60L222.60 307.40M213.80 307.40L222.60 298.60" stroke="#505050" stroke-width="1.30" fill="none"/><path d="M222.87 285.70L231.67 294.50M222.87 294.50L231.67 285.70" stroke="#505050" stroke-width="1.30" fill="none"/><path d="M231.95 272.90L240.75 281.70M231.95 281.70L240.75 272.90" stroke="#505050" stroke-width="1.30" fill="none"/><path d="M241.02 261.50L249.82 270.30M241.02 270.30L249.82 261.50" stroke="#505050" stroke-width="1.30" fill="none"/><path d="M250.10 251.60L258.90 260.40M250.10 260.40L258.90 251.60" stroke="#505050" stroke-width="1.30" fill="none"/><path d="M259.18 242.90L267.97 251.70M259.18 251.70L267.97 242.90" stroke="#505050" stroke-width="1.30" fill="none"/><path d="M268.25 235.10L277.05 243.90M268.25 243.90L277.05 235.10" stroke="#505050" stroke-width="1.30" fill="none"/><path d="M277.33 227.40L286.12 236.20M277.33 236.20L286.12 227.40" stroke="#505050" stroke-width="1.30" fill="none"/><path d="M286.40 220.60L295.20 229.40M286.40 229.40L295.20 220.60" stroke="#505050" stroke-width="1.30" fill="none"/><path d="M295.48 214.60L304.27 223.40M295.48 223.40L304.27 214.60" stroke="#505050" stroke-width="1.30" fill="none"/><path d="M304.55 209.10L313.35 217.90M304.55 217.90L313.35 209.10" stroke="#505050" stroke-width="1.30" fill="none"/><path d="M313.62 204.60L322.42 213.40M313.62 213.40L322.42 204.60" stroke="#505050" stroke-width="1.30" fill="none"/><path d="M322.70 200.20L331.50 209.00M322.70 209.00L331.50 200.20" stroke="#505050" stroke-width="1.30" fill="none"/><path d="M331.77 195.80L340.57 204.60M331.77 204.60L340.57 195.80" stroke="#505050" stroke-width="1.30" fill="none"/><path d="M340.85 191.60L349.65 200.40M340.85 200.40L349.65 191.60" stroke="#505050" stroke-width="1.30" fill="none"/><path d="M349.93 188.30L358.72 197.10M349.93 197.10L358.72 188.30" stroke="#505050" stroke-width="1.30" fill="none"/><path d="M359.00 185.00L367.80 193.80M359.00 193.80L367.80 185.00" stroke="#505050" stroke-width="1.30" fill="none"/><path d="M368.07 181.90L376.87 190.70M368.07 190.70L376.87 181.90" stroke="#505050" stroke-width="1.30" fill="none"/><path d="M377.15 179.30L385.95 188.10M377.15 188.10L385.95 179.30" stroke="#505050" stroke-width="1.30" fill="none"/><path d="M386.23 176.70L395.02 185.50M386.23 185.50L395.02 176.70" stroke="#505050" stroke-width="1.30" fill="none"/><path d="M395.30 174.70L404.10 183.50M395.30 183.50L404.10 174.70" stroke="#505050" stroke-width="1.30" fill="none"/><path d="M404.38 172.90L413.17 181.70M404.38 181.70L413.17 172.90" stroke="#505050" stroke-width="1.30" fill="none"/><path d="M413.45 171.10L422.25 179.90M413.45 179.90L422.25 171.10" stroke="#505050" stroke-width="1.30" fill="none"/><path d="M422.52 169.50L431.32 178.30M422.52 178.30L431.32 169.50" stroke="#505050" stroke-width="1.30" fill="none"/><path d="M431.60 168.20L440.40 177.00M431.60 177.00L440.40 168.20" stroke="#505050" stroke-width="1.30" fill="none"/><path d="M440.68 166.90L449.47 175.70M440.68 175.70L449.47 166.90" stroke="#505050" stroke-width="1.30" fill="none"/><path d="M449.75 165.90L458.55 174.70M449.75 174.70L458.55 165.90" stroke="#505050" stroke-width="1.30" fill="none"/><path d="M458.82 164.90L467.62 173.70M458.82 173.70L467.62 164.90" stroke="#505050" stroke-width="1.30" fill="none"/><path d="M467.90 164.10L476.70 172.90M467.90 172.90L476.70 164.10" stroke="#505050" stroke-width="1.30" fill="none"/><path d="M476.97 163.30L485.77 172.10M476.97 172.10L485.77 163.30" stroke="#505050" stroke-width="1.30" fill="none"/><path d="M486.05 162.60L494.85 171.40M486.05 171.40L494.85 162.60" stroke="#505050" stroke-width="1.30" fill="none"/><path d="M495.12 161.80L503.92 170.60M495.12 170.60L503.92 161.80" stroke="#505050" stroke-width="1.30" fill="none"/><path d="M504.20 161.00L513.00 169.80M504.20 169.80L513.00 161.00" stroke="#505050" stroke-width="1.30" fill="none"/><path d="M513.27 160.20L522.07 169.00M513.27 169.00L522.07 160.20" stroke="#505050" stroke-width="1.30" fill="none"/><path d="M522.35 159.40L531.15 168.20M522.35 168.20L531.15 159.40" stroke="#505050" stroke-width="1.30" fill="none"/><path d="M531.43 158.64L540.23 167.44M531.43 167.44L540.23 158.64" stroke="#505050" stroke-width="1.30" fill="none"/><path d="M540.50 157.88L549.30 166.68M540.50 166.68L549.30 157.88" stroke="#505050" stroke-width="1.30" fill="none"/><path d="M549.57 157.12L558.37 165.92M549.57 165.92L558.37 157.12" stroke="#505050" stroke-width="1.30" fill="none"/><path d="M558.65 156.36L567.45 165.16M558.65 165.16L567.45 156.36" stroke="#505050" stroke-width="1.30" fill="none"/><path d="M567.73 155.60L576.52 164.40M567.73 164.40L576.52 155.60" stroke="#505050" stroke-width="1.30" fill="none"/><path d="M576.80 154.97L585.60 163.78M576.80 163.78L585.60 154.97" stroke="#505050" stroke-width="1.30" fill="none"/><path d="M585.88 154.35L594.67 163.15M585.88 163.15L594.67 154.35" stroke="#505050" stroke-width="1.30" fill="none"/><path d="M594.95 153.72L603.75 162.53M594.95 162.53L603.75 153.72" stroke="#505050" stroke-width="1.30" fill="none"/><path d="M604.02 153.10L612.82 161.90M604.02 161.90L612.82 153.10" stroke="#505050" stroke-width="1.30" fill="none"/><path d="M73.00 438.40C74.51 437.25 79.05 433.65 82.08 431.50C85.10 429.35 88.12 427.42 91.15 425.50C94.18 423.58 97.20 422.03 100.22 420.00C103.25 417.97 106.27 415.47 109.30 413.30C112.33 411.13 115.35 409.17 118.38 407.00C121.40 404.83 124.42 402.72 127.45 400.30C130.47 397.88 133.50 395.38 136.52 392.50C139.55 389.62 142.57 386.42 145.60 383.00C148.62 379.58 151.65 375.35 154.68 372.00C157.70 368.65 160.72 366.40 163.75 362.90C166.78 359.40 169.80 354.90 172.82 351.00C175.85 347.10 178.87 343.33 181.90 339.50C184.92 335.67 187.95 331.85 190.97 328.00C194.00 324.15 197.02 320.35 200.05 316.40C203.07 312.45 206.10 308.25 209.12 304.30C212.15 300.35 215.17 296.68 218.20 292.70C221.22 288.72 224.25 284.35 227.27 280.40C230.30 276.45 233.32 272.75 236.35 269.00C239.38 265.25 242.40 261.43 245.42 257.90C248.45 254.37 251.47 251.02 254.50 247.80C257.52 244.58 260.55 241.57 263.57 238.60C266.60 235.63 269.62 232.85 272.65 230.00C275.67 227.15 278.70 224.10 281.73 221.50C284.75 218.90 287.77 216.78 290.80 214.40C293.82 212.02 296.85 209.47 299.88 207.20C302.90 204.93 305.93 202.83 308.95 200.80C311.97 198.77 315.00 196.83 318.02 195.00C321.05 193.17 324.07 191.42 327.10 189.80C330.12 188.18 333.15 186.70 336.17 185.30C339.20 183.90 342.23 182.83 345.25 181.40C348.27 179.97 351.30 178.03 354.32 176.70C357.35 175.37 360.38 174.52 363.40 173.40C366.42 172.28 369.45 170.98 372.47 170.00C375.50 169.02 378.52 168.35 381.55 167.50C384.57 166.65 387.60 165.63 390.62 164.90C393.65 164.17 396.68 163.70 399.70 163.10C402.72 162.50 405.75 161.87 408.77 161.30C411.80 160.73 414.82 160.22 417.85 159.70C420.87 159.18 423.90 158.70 426.92 158.20C429.95 157.70 432.98 157.13 436.00 156.70C439.02 156.27 442.05 155.95 445.07 155.60C448.10 155.25 451.12 154.93 454.15 154.60C457.17 154.27 460.20 153.90 463.22 153.60C466.25 153.30 469.27 153.07 472.30 152.80C475.32 152.53 478.35 152.30 481.37 152.00C484.40 151.70 487.42 151.29 490.45 151.00C493.48 150.71 496.50 150.50 499.52 150.25C502.55 150.00 505.57 149.75 508.60 149.50C511.62 149.25 514.65 149.00 517.67 148.75C520.70 148.50 523.73 148.23 526.75 148.00C529.77 147.77 532.80 147.57 535.83 147.36C538.85 147.15 541.88 146.93 544.90 146.72C547.92 146.51 550.95 146.29 553.97 146.08C557.00 145.87 560.02 145.65 563.05 145.44C566.07 145.23 569.10 145.00 572.12 144.80C575.15 144.60 578.17 144.43 581.20 144.25C584.22 144.07 587.25 143.88 590.27 143.70C593.30 143.52 596.32 143.33 599.35 143.15C602.37 142.97 606.91 142.69 608.42 142.60" fill="none" stroke="#8c8c8c" stroke-width="1.90" stroke-linejoin="round"/><path d="M68.60 434.00L77.40 442.80M68.60 442.80L77.40 434.00M73.00 434.00L73.00 442.80" stroke="#8c8c8c" stroke-width="1.30" fill="none"/><path d="M77.67 427.10L86.48 435.90M77.67 435.90L86.48 427.10M82.08 427.10L82.08 435.90" stroke="#8c8c8c" stroke-width="1.30" fill="none"/><path d="M86.75 421.10L95.55 429.90M86.75 429.90L95.55 421.10M91.15 421.10L91.15 429.90" stroke="#8c8c8c" stroke-width="1.30" fill="none"/><path d="M95.82 415.60L104.62 424.40M95.82 424.40L104.62 415.60M100.22 415.60L100.22 424.40" stroke="#8c8c8c" stroke-width="1.30" fill="none"/><path d="M104.90 408.90L113.70 417.70M104.90 417.70L113.70 408.90M109.30 408.90L109.30 417.70" stroke="#8c8c8c" stroke-width="1.30" fill="none"/><path d="M113.97 402.60L122.78 411.40M113.97 411.40L122.78 402.60M118.38 402.60L118.38 411.40" stroke="#8c8c8c" stroke-width="1.30" fill="none"/><path d="M123.05 395.90L131.85 404.70M123.05 404.70L131.85 395.90M127.45 395.90L127.45 404.70" stroke="#8c8c8c" stroke-width="1.30" fill="none"/><path d="M132.12 388.10L140.92 396.90M132.12 396.90L140.92 388.10M136.52 388.10L136.52 396.90" stroke="#8c8c8c" stroke-width="1.30" fill="none"/><path d="M141.20 378.60L150.00 387.40M141.20 387.40L150.00 378.60M145.60 378.60L145.60 387.40" stroke="#8c8c8c" stroke-width="1.30" fill="none"/><path d="M150.28 367.60L159.08 376.40M150.28 376.40L159.08 367.60M154.68 367.60L154.68 376.40" stroke="#8c8c8c" stroke-width="1.30" fill="none"/><path d="M159.35 358.50L168.15 367.30M159.35 367.30L168.15 358.50M163.75 358.50L163.75 367.30" stroke="#8c8c8c" stroke-width="1.30" fill="none"/><path d="M168.42 346.60L177.22 355.40M168.42 355.40L177.22 346.60M172.82 346.60L172.82 355.40" stroke="#8c8c8c" stroke-width="1.30" fill="none"/><path d="M177.50 335.10L186.30 343.90M177.50 343.90L186.30 335.10M181.90 335.10L181.90 343.90" stroke="#8c8c8c" stroke-width="1.30" fill="none"/><path d="M186.57 323.60L195.38 332.40M186.57 332.40L195.38 323.60M190.97 323.60L190.97 332.40" stroke="#8c8c8c" stroke-width="1.30" fill="none"/><path d="M195.65 312.00L204.45 320.80M195.65 320.80L204.45 312.00M200.05 312.00L200.05 320.80" stroke="#8c8c8c" stroke-width="1.30" fill="none"/><path d="M204.72 299.90L213.53 308.70M204.72 308.70L213.53 299.90M209.12 299.90L209.12 308.70" stroke="#8c8c8c" stroke-width="1.30" fill="none"/><path d="M213.80 288.30L222.60 297.10M213.80 297.10L222.60 288.30M218.20 288.30L218.20 297.10" stroke="#8c8c8c" stroke-width="1.30" fill="none"/><path d="M222.87 276.00L231.67 284.80M222.87 284.80L231.67 276.00M227.27 276.00L227.27 284.80" stroke="#8c8c8c" stroke-width="1.30" fill="none"/><path d="M231.95 264.60L240.75 273.40M231.95 273.40L240.75 264.60M236.35 264.60L236.35 273.40" stroke="#8c8c8c" stroke-width="1.30" fill="none"/><path d="M241.02 253.50L249.82 262.30M241.02 262.30L249.82 253.50M245.42 253.50L245.42 262.30" stroke="#8c8c8c" stroke-width="1.30" fill="none"/><path d="M250.10 243.40L258.90 252.20M250.10 252.20L258.90 243.40M254.50 243.40L254.50 252.20" stroke="#8c8c8c" stroke-width="1.30" fill="none"/><path d="M259.18 234.20L267.97 243.00M259.18 243.00L267.97 234.20M263.57 234.20L263.57 243.00" stroke="#8c8c8c" stroke-width="1.30" fill="none"/><path d="M268.25 225.60L277.05 234.40M268.25 234.40L277.05 225.60M272.65 225.60L272.65 234.40" stroke="#8c8c8c" stroke-width="1.30" fill="none"/><path d="M277.33 217.10L286.12 225.90M277.33 225.90L286.12 217.10M281.73 217.10L281.73 225.90" stroke="#8c8c8c" stroke-width="1.30" fill="none"/><path d="M286.40 210.00L295.20 218.80M286.40 218.80L295.20 210.00M290.80 210.00L290.80 218.80" stroke="#8c8c8c" stroke-width="1.30" fill="none"/><path d="M295.48 202.80L304.27 211.60M295.48 211.60L304.27 202.80M299.88 202.80L299.88 211.60" stroke="#8c8c8c" stroke-width="1.30" fill="none"/><path d="M304.55 196.40L313.35 205.20M304.55 205.20L313.35 196.40M308.95 196.40L308.95 205.20" stroke="#8c8c8c" stroke-width="1.30" fill="none"/><path d="M313.62 190.60L322.42 199.40M313.62 199.40L322.42 190.60M318.02 190.60L318.02 199.40" stroke="#8c8c8c" stroke-width="1.30" fill="none"/><path d="M322.70 185.40L331.50 194.20M322.70 194.20L331.50 185.40M327.10 185.40L327.10 194.20" stroke="#8c8c8c" stroke-width="1.30" fill="none"/><path d="M331.77 180.90L340.57 189.70M331.77 189.70L340.57 180.90M336.17 180.90L336.17 189.70" stroke="#8c8c8c" stroke-width="1.30" fill="none"/><path d="M340.85 177.00L349.65 185.80M340.85 185.80L349.65 177.00M345.25 177.00L345.25 185.80" stroke="#8c8c8c" stroke-width="1.30" fill="none"/><path d="M349.93 172.30L358.72 181.10M349.93 181.10L358.72 172.30M354.32 172.30L354.32 181.10" stroke="#8c8c8c" stroke-width="1.30" fill="none"/><path d="M359.00 169.00L367.80 177.80M359.00 177.80L367.80 169.00M363.40 169.00L363.40 177.80" stroke="#8c8c8c" stroke-width="1.30" fill="none"/><path d="M368.07 165.60L376.87 174.40M368.07 174.40L376.87 165.60M372.47 165.60L372.47 174.40" stroke="#8c8c8c" stroke-width="1.30" fill="none"/><path d="M377.15 163.10L385.95 171.90M377.15 171.90L385.95 163.10M381.55 163.10L381.55 171.90" stroke="#8c8c8c" stroke-width="1.30" fill="none"/><path d="M386.23 160.50L395.02 169.30M386.23 169.30L395.02 160.50M390.62 160.50L390.62 169.30" stroke="#8c8c8c" stroke-width="1.30" fill="none"/><path d="M395.30 158.70L404.10 167.50M395.30 167.50L404.10 158.70M399.70 158.70L399.70 167.50" stroke="#8c8c8c" stroke-width="1.30" fill="none"/><path d="M404.38 156.90L413.17 165.70M404.38 165.70L413.17 156.90M408.77 156.90L408.77 165.70" stroke="#8c8c8c" stroke-width="1.30" fill="none"/><path d="M413.45 155.30L422.25 164.10M413.45 164.10L422.25 155.30M417.85 155.30L417.85 164.10" stroke="#8c8c8c" stroke-width="1.30" fill="none"/><path d="M422.52 153.80L431.32 162.60M422.52 162.60L431.32 153.80M426.92 153.80L426.92 162.60" stroke="#8c8c8c" stroke-width="1.30" fill="none"/><path d="M431.60 152.30L440.40 161.10M431.60 161.10L440.40 152.30M436.00 152.30L436.00 161.10" stroke="#8c8c8c" stroke-width="1.30" fill="none"/><path d="M440.68 151.20L449.47 160.00M440.68 160.00L449.47 151.20M445.07 151.20L445.07 160.00" stroke="#8c8c8c" stroke-width="1.30" fill="none"/><path d="M449.75 150.20L458.55 159.00M449.75 159.00L458.55 150.20M454.15 150.20L454.15 159.00" stroke="#8c8c8c" stroke-width="1.30" fill="none"/><path d="M458.82 149.20L467.62 158.00M458.82 158.00L467.62 149.20M463.22 149.20L463.22 158.00" stroke="#8c8c8c" stroke-width="1.30" fill="none"/><path d="M467.90 148.40L476.70 157.20M467.90 157.20L476.70 148.40M472.30 148.40L472.30 157.20" stroke="#8c8c8c" stroke-width="1.30" fill="none"/><path d="M476.97 147.60L485.77 156.40M476.97 156.40L485.77 147.60M481.37 147.60L481.37 156.40" stroke="#8c8c8c" stroke-width="1.30" fill="none"/><path d="M486.05 146.60L494.85 155.40M486.05 155.40L494.85 146.60M490.45 146.60L490.45 155.40" stroke="#8c8c8c" stroke-width="1.30" fill="none"/><path d="M495.12 145.85L503.92 154.65M495.12 154.65L503.92 145.85M499.52 145.85L499.52 154.65" stroke="#8c8c8c" stroke-width="1.30" fill="none"/><path d="M504.20 145.10L513.00 153.90M504.20 153.90L513.00 145.10M508.60 145.10L508.60 153.90" stroke="#8c8c8c" stroke-width="1.30" fill="none"/><path d="M513.27 144.35L522.07 153.15M513.27 153.15L522.07 144.35M517.67 144.35L517.67 153.15" stroke="#8c8c8c" stroke-width="1.30" fill="none"/><path d="M522.35 143.60L531.15 152.40M522.35 152.40L531.15 143.60M526.75 143.60L526.75 152.40" stroke="#8c8c8c" stroke-width="1.30" fill="none"/><path d="M531.43 142.96L540.23 151.76M531.43 151.76L540.23 142.96M535.83 142.96L535.83 151.76" stroke="#8c8c8c" stroke-width="1.30" fill="none"/><path d="M540.50 142.32L549.30 151.12M540.50 151.12L549.30 142.32M544.90 142.32L544.90 151.12" stroke="#8c8c8c" stroke-width="1.30" fill="none"/><path d="M549.57 141.68L558.37 150.48M549.57 150.48L558.37 141.68M553.97 141.68L553.97 150.48" stroke="#8c8c8c" stroke-width="1.30" fill="none"/><path d="M558.65 141.04L567.45 149.84M558.65 149.84L567.45 141.04M563.05 141.04L563.05 149.84" stroke="#8c8c8c" stroke-width="1.30" fill="none"/><path d="M567.73 140.40L576.52 149.20M567.73 149.20L576.52 140.40M572.12 140.40L572.12 149.20" stroke="#8c8c8c" stroke-width="1.30" fill="none"/><path d="M576.80 139.85L585.60 148.65M576.80 148.65L585.60 139.85M581.20 139.85L581.20 148.65" stroke="#8c8c8c" stroke-width="1.30" fill="none"/><path d="M585.88 139.30L594.67 148.10M585.88 148.10L594.67 139.30M590.27 139.30L590.27 148.10" stroke="#8c8c8c" stroke-width="1.30" fill="none"/><path d="M594.95 138.75L603.75 147.55M594.95 147.55L603.75 138.75M599.35 138.75L599.35 147.55" stroke="#8c8c8c" stroke-width="1.30" fill="none"/><path d="M604.02 138.20L612.82 147.00M604.02 147.00L612.82 138.20M608.42 138.20L608.42 147.00" stroke="#8c8c8c" stroke-width="1.30" fill="none"/><path d="M73.00 438.40C74.51 435.47 79.05 425.37 82.08 420.80C85.10 416.23 88.12 414.07 91.15 411.00C94.18 407.93 97.20 405.13 100.22 402.40C103.25 399.67 106.27 397.25 109.30 394.60C112.33 391.95 115.35 389.22 118.38 386.50C121.40 383.78 124.42 381.02 127.45 378.30C130.47 375.58 133.50 373.02 136.52 370.20C139.55 367.38 142.57 364.77 145.60 361.40C148.62 358.03 151.65 353.57 154.68 350.00C157.70 346.43 160.72 343.67 163.75 340.00C166.78 336.33 169.80 331.93 172.82 328.00C175.85 324.07 178.87 320.35 181.90 316.40C184.92 312.45 187.95 308.47 190.97 304.30C194.00 300.13 197.02 295.70 200.05 291.40C203.07 287.10 206.10 282.67 209.12 278.50C212.15 274.33 215.17 270.48 218.20 266.40C221.22 262.32 224.25 258.12 227.27 254.00C230.30 249.88 233.32 245.57 236.35 241.70C239.38 237.83 242.40 234.35 245.42 230.80C248.45 227.25 251.47 223.83 254.50 220.40C257.52 216.97 260.55 213.37 263.57 210.20C266.60 207.03 269.62 204.37 272.65 201.40C275.67 198.43 278.70 195.27 281.73 192.40C284.75 189.53 287.77 186.77 290.80 184.20C293.82 181.63 296.85 179.32 299.88 177.00C302.90 174.68 305.93 172.38 308.95 170.30C311.97 168.22 315.00 166.28 318.02 164.50C321.05 162.72 324.07 161.33 327.10 159.60C330.12 157.87 333.15 155.67 336.17 154.10C339.20 152.53 342.23 151.48 345.25 150.20C348.27 148.92 351.30 147.68 354.32 146.40C357.35 145.12 360.38 143.72 363.40 142.50C366.42 141.28 369.45 140.18 372.47 139.10C375.50 138.02 378.52 137.02 381.55 136.00C384.57 134.98 387.60 133.93 390.62 133.00C393.65 132.07 396.68 131.18 399.70 130.40C402.72 129.62 405.75 128.98 408.77 128.30C411.80 127.62 414.82 126.93 417.85 126.30C420.87 125.67 423.90 125.10 426.92 124.50C429.95 123.90 432.98 123.27 436.00 122.70C439.02 122.13 442.05 121.58 445.07 121.10C448.10 120.62 451.12 120.23 454.15 119.80C457.17 119.37 460.20 118.88 463.22 118.50C466.25 118.12 469.27 117.88 472.30 117.50C475.32 117.12 478.35 116.63 481.37 116.20C484.40 115.77 487.42 115.25 490.45 114.90C493.48 114.55 496.50 114.35 499.52 114.08C502.55 113.80 505.57 113.53 508.60 113.25C511.62 112.97 514.65 112.70 517.67 112.42C520.70 112.15 523.73 111.86 526.75 111.60C529.77 111.34 532.80 111.12 535.83 110.88C538.85 110.64 541.88 110.40 544.90 110.16C547.92 109.92 550.95 109.68 553.97 109.44C557.00 109.20 560.02 108.96 563.05 108.72C566.07 108.48 569.10 108.22 572.12 108.00C575.15 107.78 578.17 107.60 581.20 107.40C584.22 107.20 587.25 107.00 590.27 106.80C593.30 106.60 596.32 106.40 599.35 106.20C602.37 106.00 606.91 105.70 608.42 105.60" fill="none" stroke="#9b9b9b" stroke-width="2.00" stroke-linejoin="round"/><circle cx="73.00" cy="438.40" r="4.80" fill="#9b9b9b"/><circle cx="82.08" cy="420.80" r="4.80" fill="#9b9b9b"/><circle cx="91.15" cy="411.00" r="4.80" fill="#9b9b9b"/><circle cx="100.22" cy="402.40" r="4.80" fill="#9b9b9b"/><circle cx="109.30" cy="394.60" r="4.80" fill="#9b9b9b"/><circle cx="118.38" cy="386.50" r="4.80" fill="#9b9b9b"/><circle cx="127.45" cy="378.30" r="4.80" fill="#9b9b9b"/><circle cx="136.52" cy="370.20" r="4.80" fill="#9b9b9b"/><circle cx="145.60" cy="361.40" r="4.80" fill="#9b9b9b"/><circle cx="154.68" cy="350.00" r="4.80" fill="#9b9b9b"/><circle cx="163.75" cy="340.00" r="4.80" fill="#9b9b9b"/><circle cx="172.82" cy="328.00" r="4.80" fill="#9b9b9b"/><circle cx="181.90" cy="316.40" r="4.80" fill="#9b9b9b"/><circle cx="190.97" cy="304.30" r="4.80" fill="#9b9b9b"/><circle cx="200.05" cy="291.40" r="4.80" fill="#9b9b9b"/><circle cx="209.12" cy="278.50" r="4.80" fill="#9b9b9b"/><circle cx="218.20" cy="266.40" r="4.80" fill="#9b9b9b"/><circle cx="227.27" cy="254.00" r="4.80" fill="#9b9b9b"/><circle cx="236.35" cy="241.70" r="4.80" fill="#9b9b9b"/><circle cx="245.42" cy="230.80" r="4.80" fill="#9b9b9b"/><circle cx="254.50" cy="220.40" r="4.80" fill="#9b9b9b"/><circle cx="263.57" cy="210.20" r="4.80" fill="#9b9b9b"/><circle cx="272.65" cy="201.40" r="4.80" fill="#9b9b9b"/><circle cx="281.73" cy="192.40" r="4.80" fill="#9b9b9b"/><circle cx="290.80" cy="184.20" r="4.80" fill="#9b9b9b"/><circle cx="299.88" cy="177.00" r="4.80" fill="#9b9b9b"/><circle cx="308.95" cy="170.30" r="4.80" fill="#9b9b9b"/><circle cx="318.02" cy="164.50" r="4.80" fill="#9b9b9b"/><circle cx="327.10" cy="159.60" r="4.80" fill="#9b9b9b"/><circle cx="336.17" cy="154.10" r="4.80" fill="#9b9b9b"/><circle cx="345.25" cy="150.20" r="4.80" fill="#9b9b9b"/><circle cx="354.32" cy="146.40" r="4.80" fill="#9b9b9b"/><circle cx="363.40" cy="142.50" r="4.80" fill="#9b9b9b"/><circle cx="372.47" cy="139.10" r="4.80" fill="#9b9b9b"/><circle cx="381.55" cy="136.00" r="4.80" fill="#9b9b9b"/><circle cx="390.62" cy="133.00" r="4.80" fill="#9b9b9b"/><circle cx="399.70" cy="130.40" r="4.80" fill="#9b9b9b"/><circle cx="408.77" cy="128.30" r="4.80" fill="#9b9b9b"/><circle cx="417.85" cy="126.30" r="4.80" fill="#9b9b9b"/><circle cx="426.92" cy="124.50" r="4.80" fill="#9b9b9b"/><circle cx="436.00" cy="122.70" r="4.80" fill="#9b9b9b"/><circle cx="445.07" cy="121.10" r="4.80" fill="#9b9b9b"/><circle cx="454.15" cy="119.80" r="4.80" fill="#9b9b9b"/><circle cx="463.22" cy="118.50" r="4.80" fill="#9b9b9b"/><circle cx="472.30" cy="117.50" r="4.80" fill="#9b9b9b"/><circle cx="481.37" cy="116.20" r="4.80" fill="#9b9b9b"/><circle cx="490.45" cy="114.90" r="4.80" fill="#9b9b9b"/><circle cx="499.52" cy="114.08" r="4.80" fill="#9b9b9b"/><circle cx="508.60" cy="113.25" r="4.80" fill="#9b9b9b"/><circle cx="517.67" cy="112.42" r="4.80" fill="#9b9b9b"/><circle cx="526.75" cy="111.60" r="4.80" fill="#9b9b9b"/><circle cx="535.83" cy="110.88" r="4.80" fill="#9b9b9b"/><circle cx="544.90" cy="110.16" r="4.80" fill="#9b9b9b"/><circle cx="553.97" cy="109.44" r="4.80" fill="#9b9b9b"/><circle cx="563.05" cy="108.72" r="4.80" fill="#9b9b9b"/><circle cx="572.12" cy="108.00" r="4.80" fill="#9b9b9b"/><circle cx="581.20" cy="107.40" r="4.80" fill="#9b9b9b"/><circle cx="590.27" cy="106.80" r="4.80" fill="#9b9b9b"/><circle cx="599.35" cy="106.20" r="4.80" fill="#9b9b9b"/><circle cx="608.42" cy="105.60" r="4.80" fill="#9b9b9b"/><path d="M88.50 940.00C89.99 940.33 94.44 941.43 97.42 942.00C100.39 942.57 103.36 943.17 106.33 943.40C109.30 943.63 112.28 943.63 115.25 943.40C118.22 943.17 121.19 943.02 124.16 942.00C127.14 940.98 130.11 938.23 133.08 937.30C136.05 936.37 139.02 937.48 142.00 936.40C144.97 935.32 147.94 932.90 150.91 930.80C153.88 928.70 156.86 925.67 159.83 923.80C162.80 921.93 165.77 921.08 168.74 919.60C171.72 918.12 174.69 916.77 177.66 914.90C180.63 913.03 183.60 910.65 186.58 908.40C189.55 906.15 192.52 903.73 195.49 901.40C198.46 899.07 201.44 896.83 204.41 894.40C207.38 891.97 210.35 889.60 213.32 886.80C216.30 884.00 219.27 880.07 222.24 877.60C225.21 875.13 228.18 874.33 231.16 872.00C234.13 869.67 237.10 866.80 240.07 863.60C243.04 860.40 246.02 856.13 248.99 852.80C251.96 849.47 254.93 846.63 257.90 843.60C260.88 840.57 263.85 837.77 266.82 834.60C269.79 831.43 272.76 827.83 275.74 824.60C278.71 821.37 281.68 818.30 284.65 815.20C287.62 812.10 290.60 809.05 293.57 806.00C296.54 802.95 299.51 800.00 302.48 796.90C305.46 793.80 308.43 790.27 311.40 787.40C314.37 784.53 317.34 782.32 320.32 779.70C323.29 777.08 326.26 774.37 329.23 771.70C332.20 769.03 335.18 766.18 338.15 763.70C341.12 761.22 344.09 759.18 347.06 756.80C350.04 754.42 353.01 751.78 355.98 749.40C358.95 747.02 361.92 744.75 364.90 742.50C367.87 740.25 370.84 737.95 373.81 735.90C376.78 733.85 379.76 732.10 382.73 730.20C385.70 728.30 388.67 726.17 391.64 724.50C394.62 722.83 397.59 721.63 400.56 720.20C403.53 718.77 406.50 717.33 409.48 715.90C412.45 714.47 415.42 712.95 418.39 711.60C421.36 710.25 424.34 709.10 427.31 707.80C430.28 706.50 433.25 705.02 436.22 703.80C439.20 702.58 442.17 701.63 445.14 700.50C448.11 699.37 451.08 698.17 454.06 697.00C457.03 695.83 460.00 694.67 462.97 693.50C465.94 692.33 468.92 691.17 471.89 690.00C474.86 688.83 477.83 687.55 480.80 686.50C483.78 685.45 486.75 684.53 489.72 683.70C492.69 682.87 495.66 682.25 498.64 681.52C501.61 680.79 504.58 680.07 507.55 679.34C510.52 678.61 513.50 677.89 516.47 677.16C519.44 676.43 522.41 675.71 525.38 674.98C528.36 674.25 531.33 673.41 534.30 672.80C537.27 672.19 540.24 671.81 543.22 671.32C546.19 670.83 549.16 670.33 552.13 669.84C555.10 669.35 558.08 668.85 561.05 668.36C564.02 667.87 566.99 667.37 569.96 666.88C572.94 666.39 575.91 665.86 578.88 665.40C581.85 664.94 584.82 664.53 587.80 664.10C590.77 663.67 593.74 663.23 596.71 662.80C599.68 662.37 602.66 661.93 605.63 661.50C608.60 661.07 613.06 660.42 614.54 660.20" fill="none" stroke="#6a6a6a" stroke-width="2.00" stroke-linejoin="round"/><path d="M88.50 935.50L93.00 940.00L88.50 944.50L84.00 940.00Z" fill="#6a6a6a"/><path d="M97.42 937.50L101.92 942.00L97.42 946.50L92.92 942.00Z" fill="#6a6a6a"/><path d="M106.33 938.90L110.83 943.40L106.33 947.90L101.83 943.40Z" fill="#6a6a6a"/><path d="M115.25 938.90L119.75 943.40L115.25 947.90L110.75 943.40Z" fill="#6a6a6a"/><path d="M124.16 937.50L128.66 942.00L124.16 946.50L119.66 942.00Z" fill="#6a6a6a"/><path d="M133.08 932.80L137.58 937.30L133.08 941.80L128.58 937.30Z" fill="#6a6a6a"/><path d="M142.00 931.90L146.50 936.40L142.00 940.90L137.50 936.40Z" fill="#6a6a6a"/><path d="M150.91 926.30L155.41 930.80L150.91 935.30L146.41 930.80Z" fill="#6a6a6a"/><path d="M159.83 919.30L164.33 923.80L159.83 928.30L155.33 923.80Z" fill="#6a6a6a"/><path d="M168.74 915.10L173.24 919.60L168.74 924.10L164.24 919.60Z" fill="#6a6a6a"/><path d="M177.66 910.40L182.16 914.90L177.66 919.40L173.16 914.90Z" fill="#6a6a6a"/><path d="M186.58 903.90L191.08 908.40L186.58 912.90L182.08 908.40Z" fill="#6a6a6a"/><path d="M195.49 896.90L199.99 901.40L195.49 905.90L190.99 901.40Z" fill="#6a6a6a"/><path d="M204.41 889.90L208.91 894.40L204.41 898.90L199.91 894.40Z" fill="#6a6a6a"/><path d="M213.32 882.30L217.82 886.80L213.32 891.30L208.82 886.80Z" fill="#6a6a6a"/><path d="M222.24 873.10L226.74 877.60L222.24 882.10L217.74 877.60Z" fill="#6a6a6a"/><path d="M231.16 867.50L235.66 872.00L231.16 876.50L226.66 872.00Z" fill="#6a6a6a"/><path d="M240.07 859.10L244.57 863.60L240.07 868.10L235.57 863.60Z" fill="#6a6a6a"/><path d="M248.99 848.30L253.49 852.80L248.99 857.30L244.49 852.80Z" fill="#6a6a6a"/><path d="M257.90 839.10L262.40 843.60L257.90 848.10L253.40 843.60Z" fill="#6a6a6a"/><path d="M266.82 830.10L271.32 834.60L266.82 839.10L262.32 834.60Z" fill="#6a6a6a"/><path d="M275.74 820.10L280.24 824.60L275.74 829.10L271.24 824.60Z" fill="#6a6a6a"/><path d="M284.65 810.70L289.15 815.20L284.65 819.70L280.15 815.20Z" fill="#6a6a6a"/><path d="M293.57 801.50L298.07 806.00L293.57 810.50L289.07 806.00Z" fill="#6a6a6a"/><path d="M302.48 792.40L306.98 796.90L302.48 801.40L297.98 796.90Z" fill="#6a6a6a"/><path d="M311.40 782.90L315.90 787.40L311.40 791.90L306.90 787.40Z" fill="#6a6a6a"/><path d="M320.32 775.20L324.82 779.70L320.32 784.20L315.82 779.70Z" fill="#6a6a6a"/><path d="M329.23 767.20L333.73 771.70L329.23 776.20L324.73 771.70Z" fill="#6a6a6a"/><path d="M338.15 759.20L342.65 763.70L338.15 768.20L333.65 763.70Z" fill="#6a6a6a"/><path d="M347.06 752.30L351.56 756.80L347.06 761.30L342.56 756.80Z" fill="#6a6a6a"/><path d="M355.98 744.90L360.48 749.40L355.98 753.90L351.48 749.40Z" fill="#6a6a6a"/><path d="M364.90 738.00L369.40 742.50L364.90 747.00L360.40 742.50Z" fill="#6a6a6a"/><path d="M373.81 731.40L378.31 735.90L373.81 740.40L369.31 735.90Z" fill="#6a6a6a"/><path d="M382.73 725.70L387.23 730.20L382.73 734.70L378.23 730.20Z" fill="#6a6a6a"/><path d="M391.64 720.00L396.14 724.50L391.64 729.00L387.14 724.50Z" fill="#6a6a6a"/><path d="M400.56 715.70L405.06 720.20L400.56 724.70L396.06 720.20Z" fill="#6a6a6a"/><path d="M409.48 711.40L413.98 715.90L409.48 720.40L404.98 715.90Z" fill="#6a6a6a"/><path d="M418.39 707.10L422.89 711.60L418.39 716.10L413.89 711.60Z" fill="#6a6a6a"/><path d="M427.31 703.30L431.81 707.80L427.31 712.30L422.81 707.80Z" fill="#6a6a6a"/><path d="M436.22 699.30L440.72 703.80L436.22 708.30L431.72 703.80Z" fill="#6a6a6a"/><path d="M445.14 696.00L449.64 700.50L445.14 705.00L440.64 700.50Z" fill="#6a6a6a"/><path d="M454.06 692.50L458.56 697.00L454.06 701.50L449.56 697.00Z" fill="#6a6a6a"/><path d="M462.97 689.00L467.47 693.50L462.97 698.00L458.47 693.50Z" fill="#6a6a6a"/><path d="M471.89 685.50L476.39 690.00L471.89 694.50L467.39 690.00Z" fill="#6a6a6a"/><path d="M480.80 682.00L485.30 686.50L480.80 691.00L476.30 686.50Z" fill="#6a6a6a"/><path d="M489.72 679.20L494.22 683.70L489.72 688.20L485.22 683.70Z" fill="#6a6a6a"/><path d="M498.64 677.02L503.14 681.52L498.64 686.02L494.14 681.52Z" fill="#6a6a6a"/><path d="M507.55 674.84L512.05 679.34L507.55 683.84L503.05 679.34Z" fill="#6a6a6a"/><path d="M516.47 672.66L520.97 677.16L516.47 681.66L511.97 677.16Z" fill="#6a6a6a"/><path d="M525.38 670.48L529.88 674.98L525.38 679.48L520.88 674.98Z" fill="#6a6a6a"/><path d="M534.30 668.30L538.80 672.80L534.30 677.30L529.80 672.80Z" fill="#6a6a6a"/><path d="M543.22 666.82L547.72 671.32L543.22 675.82L538.72 671.32Z" fill="#6a6a6a"/><path d="M552.13 665.34L556.63 669.84L552.13 674.34L547.63 669.84Z" fill="#6a6a6a"/><path d="M561.05 663.86L565.55 668.36L561.05 672.86L556.55 668.36Z" fill="#6a6a6a"/><path d="M569.96 662.38L574.46 666.88L569.96 671.38L565.46 666.88Z" fill="#6a6a6a"/><path d="M578.88 660.90L583.38 665.40L578.88 669.90L574.38 665.40Z" fill="#6a6a6a"/><path d="M587.80 659.60L592.30 664.10L587.80 668.60L583.30 664.10Z" fill="#6a6a6a"/><path d="M596.71 658.30L601.21 662.80L596.71 667.30L592.21 662.80Z" fill="#6a6a6a"/><path d="M605.63 657.00L610.13 661.50L605.63 666.00L601.13 661.50Z" fill="#6a6a6a"/><path d="M614.54 655.70L619.04 660.20L614.54 664.70L610.04 660.20Z" fill="#6a6a6a"/><path d="M88.50 940.60C89.99 938.03 94.44 934.17 97.42 925.20C100.39 916.23 103.36 901.42 106.33 886.80C109.30 872.18 112.28 853.52 115.25 837.50C118.22 821.48 121.19 805.28 124.16 790.70C127.14 776.12 130.11 762.28 133.08 750.00C136.05 737.72 139.02 726.83 142.00 717.00C144.97 707.17 147.94 699.03 150.91 691.00C153.88 682.97 156.86 675.60 159.83 668.80C162.80 662.00 165.77 655.78 168.74 650.20C171.72 644.62 174.69 639.93 177.66 635.30C180.63 630.67 183.60 626.35 186.58 622.40C189.55 618.45 192.52 614.90 195.49 611.60C198.46 608.30 201.44 605.38 204.41 602.60C207.38 599.82 210.35 597.18 213.32 594.90C216.30 592.62 219.27 590.75 222.24 588.90C225.21 587.05 228.18 585.37 231.16 583.80C234.13 582.23 237.10 580.90 240.07 579.50C243.04 578.10 246.02 576.68 248.99 575.40C251.96 574.12 254.93 572.93 257.90 571.80C260.88 570.67 263.85 569.47 266.82 568.60C269.79 567.73 272.76 567.22 275.74 566.60C278.71 565.98 281.68 565.47 284.65 564.90C287.62 564.33 290.60 563.68 293.57 563.20C296.54 562.72 299.51 562.38 302.48 562.00C305.46 561.62 308.43 561.18 311.40 560.90C314.37 560.62 317.34 560.48 320.32 560.30C323.29 560.12 326.26 559.98 329.23 559.80C332.20 559.62 335.18 559.35 338.15 559.20C341.12 559.05 344.09 559.00 347.06 558.90C350.04 558.80 353.01 558.68 355.98 558.60C358.95 558.52 361.92 558.50 364.90 558.45C367.87 558.40 370.84 558.32 373.81 558.30C376.78 558.27 379.76 558.30 382.73 558.30C385.70 558.30 388.67 558.27 391.64 558.30C394.62 558.32 397.59 558.40 400.56 558.45C403.53 558.50 406.50 558.56 409.48 558.60C412.45 558.64 415.42 558.67 418.39 558.70C421.36 558.73 424.34 558.76 427.31 558.80C430.28 558.84 433.25 558.89 436.22 558.93C439.20 558.97 442.17 559.01 445.14 559.06C448.11 559.10 451.08 559.14 454.06 559.19C457.03 559.23 460.00 559.27 462.97 559.31C465.94 559.36 468.92 559.40 471.89 559.44C474.86 559.49 477.83 559.53 480.80 559.57C483.78 559.61 486.75 559.65 489.72 559.70C492.69 559.75 495.66 559.81 498.64 559.86C501.61 559.91 504.58 559.97 507.55 560.02C510.52 560.07 513.50 560.13 516.47 560.18C519.44 560.23 522.41 560.29 525.38 560.34C528.36 560.39 531.33 560.44 534.30 560.50C537.27 560.56 540.24 560.65 543.22 560.72C546.19 560.79 549.16 560.87 552.13 560.94C555.10 561.01 558.08 561.09 561.05 561.16C564.02 561.23 566.99 561.31 569.96 561.38C572.94 561.45 575.91 561.51 578.88 561.60C581.85 561.69 584.82 561.80 587.80 561.90C590.77 562.00 593.74 562.10 596.71 562.20C599.68 562.30 602.66 562.40 605.63 562.50C608.60 562.60 613.06 562.75 614.54 562.80" fill="none" stroke="#666666" stroke-width="2.60" stroke-linejoin="round"/><rect x="83.55" y="935.65" width="9.90" height="9.90" fill="#666666"/><rect x="92.47" y="920.25" width="9.90" height="9.90" fill="#666666"/><rect x="101.38" y="881.85" width="9.90" height="9.90" fill="#666666"/><rect x="110.30" y="832.55" width="9.90" height="9.90" fill="#666666"/><rect x="119.21" y="785.75" width="9.90" height="9.90" fill="#666666"/><rect x="128.13" y="745.05" width="9.90" height="9.90" fill="#666666"/><rect x="137.05" y="712.05" width="9.90" height="9.90" fill="#666666"/><rect x="145.96" y="686.05" width="9.90" height="9.90" fill="#666666"/><rect x="154.88" y="663.85" width="9.90" height="9.90" fill="#666666"/><rect x="163.79" y="645.25" width="9.90" height="9.90" fill="#666666"/><rect x="172.71" y="630.35" width="9.90" height="9.90" fill="#666666"/><rect x="181.63" y="617.45" width="9.90" height="9.90" fill="#666666"/><rect x="190.54" y="606.65" width="9.90" height="9.90" fill="#666666"/><rect x="199.46" y="597.65" width="9.90" height="9.90" fill="#666666"/><rect x="208.37" y="589.95" width="9.90" height="9.90" fill="#666666"/><rect x="217.29" y="583.95" width="9.90" height="9.90" fill="#666666"/><rect x="226.21" y="578.85" width="9.90" height="9.90" fill="#666666"/><rect x="235.12" y="574.55" width="9.90" height="9.90" fill="#666666"/><rect x="244.04" y="570.45" width="9.90" height="9.90" fill="#666666"/><rect x="252.95" y="566.85" width="9.90" height="9.90" fill="#666666"/><rect x="261.87" y="563.65" width="9.90" height="9.90" fill="#666666"/><rect x="270.79" y="561.65" width="9.90" height="9.90" fill="#666666"/><rect x="279.70" y="559.95" width="9.90" height="9.90" fill="#666666"/><rect x="288.62" y="558.25" width="9.90" height="9.90" fill="#666666"/><rect x="297.53" y="557.05" width="9.90" height="9.90" fill="#666666"/><rect x="306.45" y="555.95" width="9.90" height="9.90" fill="#666666"/><rect x="315.37" y="555.35" width="9.90" height="9.90" fill="#666666"/><rect x="324.28" y="554.85" width="9.90" height="9.90" fill="#666666"/><rect x="333.20" y="554.25" width="9.90" height="9.90" fill="#666666"/><rect x="342.11" y="553.95" width="9.90" height="9.90" fill="#666666"/><rect x="351.03" y="553.65" width="9.90" height="9.90" fill="#666666"/><rect x="359.95" y="553.50" width="9.90" height="9.90" fill="#666666"/><rect x="368.86" y="553.35" width="9.90" height="9.90" fill="#666666"/><rect x="377.78" y="553.35" width="9.90" height="9.90" fill="#666666"/><rect x="386.69" y="553.35" width="9.90" height="9.90" fill="#666666"/><rect x="395.61" y="553.50" width="9.90" height="9.90" fill="#666666"/><rect x="404.53" y="553.65" width="9.90" height="9.90" fill="#666666"/><rect x="413.44" y="553.75" width="9.90" height="9.90" fill="#666666"/><rect x="422.36" y="553.85" width="9.90" height="9.90" fill="#666666"/><rect x="431.27" y="553.98" width="9.90" height="9.90" fill="#666666"/><rect x="440.19" y="554.11" width="9.90" height="9.90" fill="#666666"/><rect x="449.11" y="554.24" width="9.90" height="9.90" fill="#666666"/><rect x="458.02" y="554.36" width="9.90" height="9.90" fill="#666666"/><rect x="466.94" y="554.49" width="9.90" height="9.90" fill="#666666"/><rect x="475.85" y="554.62" width="9.90" height="9.90" fill="#666666"/><rect x="484.77" y="554.75" width="9.90" height="9.90" fill="#666666"/><rect x="493.69" y="554.91" width="9.90" height="9.90" fill="#666666"/><rect x="502.60" y="555.07" width="9.90" height="9.90" fill="#666666"/><rect x="511.52" y="555.23" width="9.90" height="9.90" fill="#666666"/><rect x="520.43" y="555.39" width="9.90" height="9.90" fill="#666666"/><rect x="529.35" y="555.55" width="9.90" height="9.90" fill="#666666"/><rect x="538.27" y="555.77" width="9.90" height="9.90" fill="#666666"/><rect x="547.18" y="555.99" width="9.90" height="9.90" fill="#666666"/><rect x="556.10" y="556.21" width="9.90" height="9.90" fill="#666666"/><rect x="565.01" y="556.43" width="9.90" height="9.90" fill="#666666"/><rect x="573.93" y="556.65" width="9.90" height="9.90" fill="#666666"/><rect x="582.85" y="556.95" width="9.90" height="9.90" fill="#666666"/><rect x="591.76" y="557.25" width="9.90" height="9.90" fill="#666666"/><rect x="600.68" y="557.55" width="9.90" height="9.90" fill="#666666"/><rect x="609.59" y="557.85" width="9.90" height="9.90" fill="#666666"/><path d="M88.50 940.40C89.99 940.23 94.44 939.77 97.42 939.40C100.39 939.03 103.36 939.10 106.33 938.20C109.30 937.30 112.28 935.63 115.25 934.00C118.22 932.37 121.19 930.27 124.16 928.40C127.14 926.53 130.11 924.43 133.08 922.80C136.05 921.17 139.02 919.85 142.00 918.60C144.97 917.35 147.94 916.93 150.91 915.30C153.88 913.67 156.86 910.58 159.83 908.80C162.80 907.02 165.77 906.33 168.74 904.60C171.72 902.87 174.69 900.03 177.66 898.40C180.63 896.77 183.60 896.57 186.58 894.80C189.55 893.03 192.52 890.60 195.49 887.80C198.46 885.00 201.44 880.80 204.41 878.00C207.38 875.20 210.35 873.57 213.32 871.00C216.30 868.43 219.27 865.03 222.24 862.60C225.21 860.17 228.18 859.20 231.16 856.40C234.13 853.60 237.10 849.25 240.07 845.80C243.04 842.35 246.02 838.92 248.99 835.70C251.96 832.48 254.93 829.85 257.90 826.50C260.88 823.15 263.85 818.95 266.82 815.60C269.79 812.25 272.76 809.60 275.74 806.40C278.71 803.20 281.68 799.73 284.65 796.40C287.62 793.07 290.60 789.60 293.57 786.40C296.54 783.20 299.51 780.30 302.48 777.20C305.46 774.10 308.43 770.80 311.40 767.80C314.37 764.80 317.34 762.07 320.32 759.20C323.29 756.33 326.26 753.32 329.23 750.60C332.20 747.88 335.18 745.52 338.15 742.90C341.12 740.28 344.09 737.28 347.06 734.90C350.04 732.52 353.01 730.75 355.98 728.60C358.95 726.45 361.92 724.20 364.90 722.00C367.87 719.80 370.84 717.30 373.81 715.40C376.78 713.50 379.76 712.22 382.73 710.60C385.70 708.98 388.67 707.28 391.64 705.70C394.62 704.12 397.59 702.43 400.56 701.10C403.53 699.77 406.50 698.98 409.48 697.70C412.45 696.42 415.42 694.72 418.39 693.40C421.36 692.08 424.34 690.97 427.31 689.80C430.28 688.63 433.25 687.47 436.22 686.40C439.20 685.33 442.17 684.50 445.14 683.40C448.11 682.30 451.08 681.00 454.06 679.80C457.03 678.60 460.00 677.40 462.97 676.20C465.94 675.00 468.92 673.80 471.89 672.60C474.86 671.40 477.83 670.00 480.80 669.00C483.78 668.00 486.75 667.32 489.72 666.60C492.69 665.88 495.66 665.33 498.64 664.70C501.61 664.07 504.58 663.43 507.55 662.80C510.52 662.17 513.50 661.53 516.47 660.90C519.44 660.27 522.41 659.63 525.38 659.00C528.36 658.37 531.33 657.61 534.30 657.10C537.27 656.59 540.24 656.34 543.22 655.96C546.19 655.58 549.16 655.20 552.13 654.82C555.10 654.44 558.08 654.06 561.05 653.68C564.02 653.30 566.99 652.92 569.96 652.54C572.94 652.16 575.91 651.74 578.88 651.40C581.85 651.06 584.82 650.80 587.80 650.50C590.77 650.20 593.74 649.90 596.71 649.60C599.68 649.30 602.66 649.00 605.63 648.70C608.60 648.40 613.06 647.95 614.54 647.80" fill="none" stroke="#949494" stroke-width="2.00" stroke-linejoin="round"/><path d="M88.50 934.95L93.01 944.50L83.99 944.50Z" fill="#949494" stroke="#909090" stroke-width="0.7" stroke-linejoin="miter"/><path d="M97.42 933.95L101.93 943.50L92.91 943.50Z" fill="#949494" stroke="#909090" stroke-width="0.7" stroke-linejoin="miter"/><path d="M106.33 932.75L110.84 942.30L101.82 942.30Z" fill="#949494" stroke="#909090" stroke-width="0.7" stroke-linejoin="miter"/><path d="M115.25 928.55L119.76 938.10L110.74 938.10Z" fill="#949494" stroke="#909090" stroke-width="0.7" stroke-linejoin="miter"/><path d="M124.16 922.95L128.67 932.50L119.65 932.50Z" fill="#949494" stroke="#909090" stroke-width="0.7" stroke-linejoin="miter"/><path d="M133.08 917.35L137.59 926.90L128.57 926.90Z" fill="#949494" stroke="#909090" stroke-width="0.7" stroke-linejoin="miter"/><path d="M142.00 913.15L146.51 922.70L137.49 922.70Z" fill="#949494" stroke="#909090" stroke-width="0.7" stroke-linejoin="miter"/><path d="M150.91 909.85L155.42 919.40L146.40 919.40Z" fill="#949494" stroke="#909090" stroke-width="0.7" stroke-linejoin="miter"/><path d="M159.83 903.35L164.34 912.90L155.32 912.90Z" fill="#949494" stroke="#909090" stroke-width="0.7" stroke-linejoin="miter"/><path d="M168.74 899.15L173.25 908.70L164.23 908.70Z" fill="#949494" stroke="#909090" stroke-width="0.7" stroke-linejoin="miter"/><path d="M177.66 892.95L182.17 902.50L173.15 902.50Z" fill="#949494" stroke="#909090" stroke-width="0.7" stroke-linejoin="miter"/><path d="M186.58 889.35L191.09 898.90L182.07 898.90Z" fill="#949494" stroke="#909090" stroke-width="0.7" stroke-linejoin="miter"/><path d="M195.49 882.35L200.00 891.90L190.98 891.90Z" fill="#949494" stroke="#909090" stroke-width="0.7" stroke-linejoin="miter"/><path d="M204.41 872.55L208.92 882.10L199.90 882.10Z" fill="#949494" stroke="#909090" stroke-width="0.7" stroke-linejoin="miter"/><path d="M213.32 865.55L217.83 875.10L208.81 875.10Z" fill="#949494" stroke="#909090" stroke-width="0.7" stroke-linejoin="miter"/><path d="M222.24 857.15L226.75 866.70L217.73 866.70Z" fill="#949494" stroke="#909090" stroke-width="0.7" stroke-linejoin="miter"/><path d="M231.16 850.95L235.67 860.50L226.65 860.50Z" fill="#949494" stroke="#909090" stroke-width="0.7" stroke-linejoin="miter"/><path d="M240.07 840.35L244.58 849.90L235.56 849.90Z" fill="#949494" stroke="#909090" stroke-width="0.7" stroke-linejoin="miter"/><path d="M248.99 830.25L253.50 839.80L244.48 839.80Z" fill="#949494" stroke="#909090" stroke-width="0.7" stroke-linejoin="miter"/><path d="M257.90 821.05L262.41 830.60L253.39 830.60Z" fill="#949494" stroke="#909090" stroke-width="0.7" stroke-linejoin="miter"/><path d="M266.82 810.15L271.33 819.70L262.31 819.70Z" fill="#949494" stroke="#909090" stroke-width="0.7" stroke-linejoin="miter"/><path d="M275.74 800.95L280.25 810.50L271.23 810.50Z" fill="#949494" stroke="#909090" stroke-width="0.7" stroke-linejoin="miter"/><path d="M284.65 790.95L289.16 800.50L280.14 800.50Z" fill="#949494" stroke="#909090" stroke-width="0.7" stroke-linejoin="miter"/><path d="M293.57 780.95L298.08 790.50L289.06 790.50Z" fill="#949494" stroke="#909090" stroke-width="0.7" stroke-linejoin="miter"/><path d="M302.48 771.75L306.99 781.30L297.97 781.30Z" fill="#949494" stroke="#909090" stroke-width="0.7" stroke-linejoin="miter"/><path d="M311.40 762.35L315.91 771.90L306.89 771.90Z" fill="#949494" stroke="#909090" stroke-width="0.7" stroke-linejoin="miter"/><path d="M320.32 753.75L324.83 763.30L315.81 763.30Z" fill="#949494" stroke="#909090" stroke-width="0.7" stroke-linejoin="miter"/><path d="M329.23 745.15L333.74 754.70L324.72 754.70Z" fill="#949494" stroke="#909090" stroke-width="0.7" stroke-linejoin="miter"/><path d="M338.15 737.45L342.66 747.00L333.64 747.00Z" fill="#949494" stroke="#909090" stroke-width="0.7" stroke-linejoin="miter"/><path d="M347.06 729.45L351.57 739.00L342.55 739.00Z" fill="#949494" stroke="#909090" stroke-width="0.7" stroke-linejoin="miter"/><path d="M355.98 723.15L360.49 732.70L351.47 732.70Z" fill="#949494" stroke="#909090" stroke-width="0.7" stroke-linejoin="miter"/><path d="M364.90 716.55L369.41 726.10L360.39 726.10Z" fill="#949494" stroke="#909090" stroke-width="0.7" stroke-linejoin="miter"/><path d="M373.81 709.95L378.32 719.50L369.30 719.50Z" fill="#949494" stroke="#909090" stroke-width="0.7" stroke-linejoin="miter"/><path d="M382.73 705.15L387.24 714.70L378.22 714.70Z" fill="#949494" stroke="#909090" stroke-width="0.7" stroke-linejoin="miter"/><path d="M391.64 700.25L396.15 709.80L387.13 709.80Z" fill="#949494" stroke="#909090" stroke-width="0.7" stroke-linejoin="miter"/><path d="M400.56 695.65L405.07 705.20L396.05 705.20Z" fill="#949494" stroke="#909090" stroke-width="0.7" stroke-linejoin="miter"/><path d="M409.48 692.25L413.99 701.80L404.97 701.80Z" fill="#949494" stroke="#909090" stroke-width="0.7" stroke-linejoin="miter"/><path d="M418.39 687.95L422.90 697.50L413.88 697.50Z" fill="#949494" stroke="#909090" stroke-width="0.7" stroke-linejoin="miter"/><path d="M427.31 684.35L431.82 693.90L422.80 693.90Z" fill="#949494" stroke="#909090" stroke-width="0.7" stroke-linejoin="miter"/><path d="M436.22 680.95L440.73 690.50L431.71 690.50Z" fill="#949494" stroke="#909090" stroke-width="0.7" stroke-linejoin="miter"/><path d="M445.14 677.95L449.65 687.50L440.63 687.50Z" fill="#949494" stroke="#909090" stroke-width="0.7" stroke-linejoin="miter"/><path d="M454.06 674.35L458.57 683.90L449.55 683.90Z" fill="#949494" stroke="#909090" stroke-width="0.7" stroke-linejoin="miter"/><path d="M462.97 670.75L467.48 680.30L458.46 680.30Z" fill="#949494" stroke="#909090" stroke-width="0.7" stroke-linejoin="miter"/><path d="M471.89 667.15L476.40 676.70L467.38 676.70Z" fill="#949494" stroke="#909090" stroke-width="0.7" stroke-linejoin="miter"/><path d="M480.80 663.55L485.31 673.10L476.29 673.10Z" fill="#949494" stroke="#909090" stroke-width="0.7" stroke-linejoin="miter"/><path d="M489.72 661.15L494.23 670.70L485.21 670.70Z" fill="#949494" stroke="#909090" stroke-width="0.7" stroke-linejoin="miter"/><path d="M498.64 659.25L503.15 668.80L494.13 668.80Z" fill="#949494" stroke="#909090" stroke-width="0.7" stroke-linejoin="miter"/><path d="M507.55 657.35L512.06 666.90L503.04 666.90Z" fill="#949494" stroke="#909090" stroke-width="0.7" stroke-linejoin="miter"/><path d="M516.47 655.45L520.98 665.00L511.96 665.00Z" fill="#949494" stroke="#909090" stroke-width="0.7" stroke-linejoin="miter"/><path d="M525.38 653.55L529.89 663.10L520.87 663.10Z" fill="#949494" stroke="#909090" stroke-width="0.7" stroke-linejoin="miter"/><path d="M534.30 651.65L538.81 661.20L529.79 661.20Z" fill="#949494" stroke="#909090" stroke-width="0.7" stroke-linejoin="miter"/><path d="M543.22 650.51L547.73 660.06L538.71 660.06Z" fill="#949494" stroke="#909090" stroke-width="0.7" stroke-linejoin="miter"/><path d="M552.13 649.37L556.64 658.92L547.62 658.92Z" fill="#949494" stroke="#909090" stroke-width="0.7" stroke-linejoin="miter"/><path d="M561.05 648.23L565.56 657.78L556.54 657.78Z" fill="#949494" stroke="#909090" stroke-width="0.7" stroke-linejoin="miter"/><path d="M569.96 647.09L574.47 656.64L565.45 656.64Z" fill="#949494" stroke="#909090" stroke-width="0.7" stroke-linejoin="miter"/><path d="M578.88 645.95L583.39 655.50L574.37 655.50Z" fill="#949494" stroke="#909090" stroke-width="0.7" stroke-linejoin="miter"/><path d="M587.80 645.05L592.31 654.60L583.29 654.60Z" fill="#949494" stroke="#909090" stroke-width="0.7" stroke-linejoin="miter"/><path d="M596.71 644.15L601.22 653.70L592.20 653.70Z" fill="#949494" stroke="#909090" stroke-width="0.7" stroke-linejoin="miter"/><path d="M605.63 643.25L610.14 652.80L601.12 652.80Z" fill="#949494" stroke="#909090" stroke-width="0.7" stroke-linejoin="miter"/><path d="M614.54 642.35L619.05 651.90L610.03 651.90Z" fill="#949494" stroke="#909090" stroke-width="0.7" stroke-linejoin="miter"/><path d="M88.50 940.00C89.99 939.40 94.44 937.93 97.42 936.40C100.39 934.87 103.36 932.53 106.33 930.80C109.30 929.07 112.28 927.63 115.25 926.00C118.22 924.37 121.19 922.53 124.16 921.00C127.14 919.47 130.11 918.10 133.08 916.80C136.05 915.50 139.02 914.27 142.00 913.20C144.97 912.13 147.94 911.90 150.91 910.40C153.88 908.90 156.86 906.07 159.83 904.20C162.80 902.33 165.77 900.83 168.74 899.20C171.72 897.57 174.69 896.37 177.66 894.40C180.63 892.43 183.60 889.87 186.58 887.40C189.55 884.93 192.52 882.50 195.49 879.60C198.46 876.70 201.44 872.90 204.41 870.00C207.38 867.10 210.35 864.90 213.32 862.20C216.30 859.50 219.27 856.13 222.24 853.80C225.21 851.47 228.18 850.95 231.16 848.20C234.13 845.45 237.10 841.03 240.07 837.30C243.04 833.57 246.02 829.63 248.99 825.80C251.96 821.97 254.93 818.08 257.90 814.30C260.88 810.52 263.85 806.77 266.82 803.10C269.79 799.43 272.76 796.02 275.74 792.30C278.71 788.58 281.68 784.33 284.65 780.80C287.62 777.27 290.60 774.28 293.57 771.10C296.54 767.92 299.51 764.95 302.48 761.70C305.46 758.45 308.43 754.70 311.40 751.60C314.37 748.50 317.34 745.95 320.32 743.10C323.29 740.25 326.26 737.37 329.23 734.50C332.20 731.63 335.18 728.53 338.15 725.90C341.12 723.27 344.09 721.08 347.06 718.70C350.04 716.32 353.01 713.98 355.98 711.60C358.95 709.22 361.92 706.55 364.90 704.40C367.87 702.25 370.84 700.60 373.81 698.70C376.78 696.80 379.76 694.90 382.73 693.00C385.70 691.10 388.67 688.97 391.64 687.30C394.62 685.63 397.59 684.43 400.56 683.00C403.53 681.57 406.50 680.13 409.48 678.70C412.45 677.27 415.42 675.65 418.39 674.40C421.36 673.15 424.34 672.32 427.31 671.20C430.28 670.08 433.25 668.82 436.22 667.70C439.20 666.58 442.17 665.53 445.14 664.50C448.11 663.47 451.08 662.52 454.06 661.52C457.03 660.53 460.00 659.54 462.97 658.55C465.94 657.56 468.92 656.57 471.89 655.58C474.86 654.58 477.83 653.48 480.80 652.60C483.78 651.72 486.75 651.00 489.72 650.30C492.69 649.60 495.66 649.02 498.64 648.38C501.61 647.74 504.58 647.10 507.55 646.46C510.52 645.82 513.50 645.18 516.47 644.54C519.44 643.90 522.41 643.26 525.38 642.62C528.36 641.98 531.33 641.23 534.30 640.70C537.27 640.17 540.24 639.87 543.22 639.46C546.19 639.05 549.16 638.63 552.13 638.22C555.10 637.81 558.08 637.39 561.05 636.98C564.02 636.57 566.99 636.15 569.96 635.74C572.94 635.33 575.91 634.85 578.88 634.50C581.85 634.15 584.82 633.93 587.80 633.65C590.77 633.37 593.74 633.08 596.71 632.80C599.68 632.52 602.66 632.23 605.63 631.95C608.60 631.67 613.06 631.24 614.54 631.10" fill="none" stroke="#505050" stroke-width="1.70" stroke-linejoin="round"/><path d="M84.10 935.60L92.90 944.40M84.10 944.40L92.90 935.60" stroke="#505050" stroke-width="1.35" fill="none"/><path d="M93.02 932.00L101.82 940.80M93.02 940.80L101.82 932.00" stroke="#505050" stroke-width="1.35" fill="none"/><path d="M101.93 926.40L110.73 935.20M101.93 935.20L110.73 926.40" stroke="#505050" stroke-width="1.35" fill="none"/><path d="M110.85 921.60L119.65 930.40M110.85 930.40L119.65 921.60" stroke="#505050" stroke-width="1.35" fill="none"/><path d="M119.76 916.60L128.56 925.40M119.76 925.40L128.56 916.60" stroke="#505050" stroke-width="1.35" fill="none"/><path d="M128.68 912.40L137.48 921.20M128.68 921.20L137.48 912.40" stroke="#505050" stroke-width="1.35" fill="none"/><path d="M137.60 908.80L146.40 917.60M137.60 917.60L146.40 908.80" stroke="#505050" stroke-width="1.35" fill="none"/><path d="M146.51 906.00L155.31 914.80M146.51 914.80L155.31 906.00" stroke="#505050" stroke-width="1.35" fill="none"/><path d="M155.43 899.80L164.23 908.60M155.43 908.60L164.23 899.80" stroke="#505050" stroke-width="1.35" fill="none"/><path d="M164.34 894.80L173.14 903.60M164.34 903.60L173.14 894.80" stroke="#505050" stroke-width="1.35" fill="none"/><path d="M173.26 890.00L182.06 898.80M173.26 898.80L182.06 890.00" stroke="#505050" stroke-width="1.35" fill="none"/><path d="M182.18 883.00L190.98 891.80M182.18 891.80L190.98 883.00" stroke="#505050" stroke-width="1.35" fill="none"/><path d="M191.09 875.20L199.89 884.00M191.09 884.00L199.89 875.20" stroke="#505050" stroke-width="1.35" fill="none"/><path d="M200.01 865.60L208.81 874.40M200.01 874.40L208.81 865.60" stroke="#505050" stroke-width="1.35" fill="none"/><path d="M208.92 857.80L217.72 866.60M208.92 866.60L217.72 857.80" stroke="#505050" stroke-width="1.35" fill="none"/><path d="M217.84 849.40L226.64 858.20M217.84 858.20L226.64 849.40" stroke="#505050" stroke-width="1.35" fill="none"/><path d="M226.76 843.80L235.56 852.60M226.76 852.60L235.56 843.80" stroke="#505050" stroke-width="1.35" fill="none"/><path d="M235.67 832.90L244.47 841.70M235.67 841.70L244.47 832.90" stroke="#505050" stroke-width="1.35" fill="none"/><path d="M244.59 821.40L253.39 830.20M244.59 830.20L253.39 821.40" stroke="#505050" stroke-width="1.35" fill="none"/><path d="M253.50 809.90L262.30 818.70M253.50 818.70L262.30 809.90" stroke="#505050" stroke-width="1.35" fill="none"/><path d="M262.42 798.70L271.22 807.50M262.42 807.50L271.22 798.70" stroke="#505050" stroke-width="1.35" fill="none"/><path d="M271.34 787.90L280.14 796.70M271.34 796.70L280.14 787.90" stroke="#505050" stroke-width="1.35" fill="none"/><path d="M280.25 776.40L289.05 785.20M280.25 785.20L289.05 776.40" stroke="#505050" stroke-width="1.35" fill="none"/><path d="M289.17 766.70L297.97 775.50M289.17 775.50L297.97 766.70" stroke="#505050" stroke-width="1.35" fill="none"/><path d="M298.08 757.30L306.88 766.10M298.08 766.10L306.88 757.30" stroke="#505050" stroke-width="1.35" fill="none"/><path d="M307.00 747.20L315.80 756.00M307.00 756.00L315.80 747.20" stroke="#505050" stroke-width="1.35" fill="none"/><path d="M315.92 738.70L324.72 747.50M315.92 747.50L324.72 738.70" stroke="#505050" stroke-width="1.35" fill="none"/><path d="M324.83 730.10L333.63 738.90M324.83 738.90L333.63 730.10" stroke="#505050" stroke-width="1.35" fill="none"/><path d="M333.75 721.50L342.55 730.30M333.75 730.30L342.55 721.50" stroke="#505050" stroke-width="1.35" fill="none"/><path d="M342.66 714.30L351.46 723.10M342.66 723.10L351.46 714.30" stroke="#505050" stroke-width="1.35" fill="none"/><path d="M351.58 707.20L360.38 716.00M351.58 716.00L360.38 707.20" stroke="#505050" stroke-width="1.35" fill="none"/><path d="M360.50 700.00L369.30 708.80M360.50 708.80L369.30 700.00" stroke="#505050" stroke-width="1.35" fill="none"/><path d="M369.41 694.30L378.21 703.10M369.41 703.10L378.21 694.30" stroke="#505050" stroke-width="1.35" fill="none"/><path d="M378.33 688.60L387.13 697.40M378.33 697.40L387.13 688.60" stroke="#505050" stroke-width="1.35" fill="none"/><path d="M387.24 682.90L396.04 691.70M387.24 691.70L396.04 682.90" stroke="#505050" stroke-width="1.35" fill="none"/><path d="M396.16 678.60L404.96 687.40M396.16 687.40L404.96 678.60" stroke="#505050" stroke-width="1.35" fill="none"/><path d="M405.08 674.30L413.88 683.10M405.08 683.10L413.88 674.30" stroke="#505050" stroke-width="1.35" fill="none"/><path d="M413.99 670.00L422.79 678.80M413.99 678.80L422.79 670.00" stroke="#505050" stroke-width="1.35" fill="none"/><path d="M422.91 666.80L431.71 675.60M422.91 675.60L431.71 666.80" stroke="#505050" stroke-width="1.35" fill="none"/><path d="M431.82 663.30L440.62 672.10M431.82 672.10L440.62 663.30" stroke="#505050" stroke-width="1.35" fill="none"/><path d="M440.74 660.10L449.54 668.90M440.74 668.90L449.54 660.10" stroke="#505050" stroke-width="1.35" fill="none"/><path d="M449.66 657.12L458.46 665.92M449.66 665.92L458.46 657.12" stroke="#505050" stroke-width="1.35" fill="none"/><path d="M458.57 654.15L467.37 662.95M458.57 662.95L467.37 654.15" stroke="#505050" stroke-width="1.35" fill="none"/><path d="M467.49 651.18L476.29 659.98M467.49 659.98L476.29 651.18" stroke="#505050" stroke-width="1.35" fill="none"/><path d="M476.40 648.20L485.20 657.00M476.40 657.00L485.20 648.20" stroke="#505050" stroke-width="1.35" fill="none"/><path d="M485.32 645.90L494.12 654.70M485.32 654.70L494.12 645.90" stroke="#505050" stroke-width="1.35" fill="none"/><path d="M494.24 643.98L503.04 652.78M494.24 652.78L503.04 643.98" stroke="#505050" stroke-width="1.35" fill="none"/><path d="M503.15 642.06L511.95 650.86M503.15 650.86L511.95 642.06" stroke="#505050" stroke-width="1.35" fill="none"/><path d="M512.07 640.14L520.87 648.94M512.07 648.94L520.87 640.14" stroke="#505050" stroke-width="1.35" fill="none"/><path d="M520.98 638.22L529.78 647.02M520.98 647.02L529.78 638.22" stroke="#505050" stroke-width="1.35" fill="none"/><path d="M529.90 636.30L538.70 645.10M529.90 645.10L538.70 636.30" stroke="#505050" stroke-width="1.35" fill="none"/><path d="M538.82 635.06L547.62 643.86M538.82 643.86L547.62 635.06" stroke="#505050" stroke-width="1.35" fill="none"/><path d="M547.73 633.82L556.53 642.62M547.73 642.62L556.53 633.82" stroke="#505050" stroke-width="1.35" fill="none"/><path d="M556.65 632.58L565.45 641.38M556.65 641.38L565.45 632.58" stroke="#505050" stroke-width="1.35" fill="none"/><path d="M565.56 631.34L574.36 640.14M565.56 640.14L574.36 631.34" stroke="#505050" stroke-width="1.35" fill="none"/><path d="M574.48 630.10L583.28 638.90M574.48 638.90L583.28 630.10" stroke="#505050" stroke-width="1.35" fill="none"/><path d="M583.40 629.25L592.20 638.05M583.40 638.05L592.20 629.25" stroke="#505050" stroke-width="1.35" fill="none"/><path d="M592.31 628.40L601.11 637.20M592.31 637.20L601.11 628.40" stroke="#505050" stroke-width="1.35" fill="none"/><path d="M601.23 627.55L610.03 636.35M601.23 636.35L610.03 627.55" stroke="#505050" stroke-width="1.35" fill="none"/><path d="M610.14 626.70L618.94 635.50M610.14 635.50L618.94 626.70" stroke="#505050" stroke-width="1.35" fill="none"/><path d="M88.50 940.00C89.99 940.08 94.44 941.75 97.42 940.50C100.39 939.25 103.36 934.82 106.33 932.50C109.30 930.18 112.28 928.52 115.25 926.60C118.22 924.68 121.19 922.48 124.16 921.00C127.14 919.52 130.11 918.87 133.08 917.70C136.05 916.53 139.02 915.08 142.00 914.00C144.97 912.92 147.94 912.83 150.91 911.20C153.88 909.57 156.86 906.07 159.83 904.20C162.80 902.33 165.77 901.97 168.74 900.00C171.72 898.03 174.69 895.43 177.66 892.40C180.63 889.37 183.60 885.20 186.58 881.80C189.55 878.40 192.52 875.50 195.49 872.00C198.46 868.50 201.44 864.77 204.41 860.80C207.38 856.83 210.35 852.08 213.32 848.20C216.30 844.32 219.27 841.25 222.24 837.50C225.21 833.75 228.18 829.95 231.16 825.70C234.13 821.45 237.10 816.53 240.07 812.00C243.04 807.47 246.02 802.83 248.99 798.50C251.96 794.17 254.93 790.23 257.90 786.00C260.88 781.77 263.85 777.15 266.82 773.10C269.79 769.05 272.76 765.52 275.74 761.70C278.71 757.88 281.68 754.02 284.65 750.20C287.62 746.38 290.60 742.37 293.57 738.80C296.54 735.23 299.51 732.28 302.48 728.80C305.46 725.32 308.43 721.25 311.40 717.90C314.37 714.55 317.34 711.67 320.32 708.70C323.29 705.73 326.26 702.95 329.23 700.10C332.20 697.25 335.18 694.22 338.15 691.60C341.12 688.98 344.09 686.78 347.06 684.40C350.04 682.02 353.01 679.68 355.98 677.30C358.95 674.92 361.92 672.40 364.90 670.10C367.87 667.80 370.84 665.55 373.81 663.50C376.78 661.45 379.76 659.57 382.73 657.80C385.70 656.03 388.67 654.52 391.64 652.90C394.62 651.28 397.59 649.53 400.56 648.10C403.53 646.67 406.50 645.48 409.48 644.30C412.45 643.12 415.42 642.00 418.39 641.00C421.36 640.00 424.34 639.25 427.31 638.30C430.28 637.35 433.25 636.27 436.22 635.30C439.20 634.33 442.17 633.36 445.14 632.50C448.11 631.64 451.08 630.92 454.06 630.12C457.03 629.33 460.00 628.54 462.97 627.75C465.94 626.96 468.92 626.17 471.89 625.38C474.86 624.58 477.83 623.68 480.80 623.00C483.78 622.32 486.75 621.81 489.72 621.30C492.69 620.79 495.66 620.38 498.64 619.92C501.61 619.46 504.58 619.00 507.55 618.54C510.52 618.08 513.50 617.62 516.47 617.16C519.44 616.70 522.41 616.24 525.38 615.78C528.36 615.32 531.33 614.76 534.30 614.40C537.27 614.04 540.24 613.88 543.22 613.62C546.19 613.36 549.16 613.10 552.13 612.84C555.10 612.58 558.08 612.32 561.05 612.06C564.02 611.80 566.99 611.54 569.96 611.28C572.94 611.02 575.91 610.73 578.88 610.50C581.85 610.27 584.82 610.12 587.80 609.92C590.77 609.73 593.74 609.54 596.71 609.35C599.68 609.16 602.66 608.97 605.63 608.78C608.60 608.58 613.06 608.30 614.54 608.20" fill="none" stroke="#7c7c7c" stroke-width="1.90" stroke-linejoin="round"/><path d="M84.10 935.60L92.90 944.40M84.10 944.40L92.90 935.60M88.50 935.60L88.50 944.40" stroke="#7c7c7c" stroke-width="1.35" fill="none"/><path d="M93.02 936.10L101.82 944.90M93.02 944.90L101.82 936.10M97.42 936.10L97.42 944.90" stroke="#7c7c7c" stroke-width="1.35" fill="none"/><path d="M101.93 928.10L110.73 936.90M101.93 936.90L110.73 928.10M106.33 928.10L106.33 936.90" stroke="#7c7c7c" stroke-width="1.35" fill="none"/><path d="M110.85 922.20L119.65 931.00M110.85 931.00L119.65 922.20M115.25 922.20L115.25 931.00" stroke="#7c7c7c" stroke-width="1.35" fill="none"/><path d="M119.76 916.60L128.56 925.40M119.76 925.40L128.56 916.60M124.16 916.60L124.16 925.40" stroke="#7c7c7c" stroke-width="1.35" fill="none"/><path d="M128.68 913.30L137.48 922.10M128.68 922.10L137.48 913.30M133.08 913.30L133.08 922.10" stroke="#7c7c7c" stroke-width="1.35" fill="none"/><path d="M137.60 909.60L146.40 918.40M137.60 918.40L146.40 909.60M142.00 909.60L142.00 918.40" stroke="#7c7c7c" stroke-width="1.35" fill="none"/><path d="M146.51 906.80L155.31 915.60M146.51 915.60L155.31 906.80M150.91 906.80L150.91 915.60" stroke="#7c7c7c" stroke-width="1.35" fill="none"/><path d="M155.43 899.80L164.23 908.60M155.43 908.60L164.23 899.80M159.83 899.80L159.83 908.60" stroke="#7c7c7c" stroke-width="1.35" fill="none"/><path d="M164.34 895.60L173.14 904.40M164.34 904.40L173.14 895.60M168.74 895.60L168.74 904.40" stroke="#7c7c7c" stroke-width="1.35" fill="none"/><path d="M173.26 888.00L182.06 896.80M173.26 896.80L182.06 888.00M177.66 888.00L177.66 896.80" stroke="#7c7c7c" stroke-width="1.35" fill="none"/><path d="M182.18 877.40L190.98 886.20M182.18 886.20L190.98 877.40M186.58 877.40L186.58 886.20" stroke="#7c7c7c" stroke-width="1.35" fill="none"/><path d="M191.09 867.60L199.89 876.40M191.09 876.40L199.89 867.60M195.49 867.60L195.49 876.40" stroke="#7c7c7c" stroke-width="1.35" fill="none"/><path d="M200.01 856.40L208.81 865.20M200.01 865.20L208.81 856.40M204.41 856.40L204.41 865.20" stroke="#7c7c7c" stroke-width="1.35" fill="none"/><path d="M208.92 843.80L217.72 852.60M208.92 852.60L217.72 843.80M213.32 843.80L213.32 852.60" stroke="#7c7c7c" stroke-width="1.35" fill="none"/><path d="M217.84 833.10L226.64 841.90M217.84 841.90L226.64 833.10M222.24 833.10L222.24 841.90" stroke="#7c7c7c" stroke-width="1.35" fill="none"/><path d="M226.76 821.30L235.56 830.10M226.76 830.10L235.56 821.30M231.16 821.30L231.16 830.10" stroke="#7c7c7c" stroke-width="1.35" fill="none"/><path d="M235.67 807.60L244.47 816.40M235.67 816.40L244.47 807.60M240.07 807.60L240.07 816.40" stroke="#7c7c7c" stroke-width="1.35" fill="none"/><path d="M244.59 794.10L253.39 802.90M244.59 802.90L253.39 794.10M248.99 794.10L248.99 802.90" stroke="#7c7c7c" stroke-width="1.35" fill="none"/><path d="M253.50 781.60L262.30 790.40M253.50 790.40L262.30 781.60M257.90 781.60L257.90 790.40" stroke="#7c7c7c" stroke-width="1.35" fill="none"/><path d="M262.42 768.70L271.22 777.50M262.42 777.50L271.22 768.70M266.82 768.70L266.82 777.50" stroke="#7c7c7c" stroke-width="1.35" fill="none"/><path d="M271.34 757.30L280.14 766.10M271.34 766.10L280.14 757.30M275.74 757.30L275.74 766.10" stroke="#7c7c7c" stroke-width="1.35" fill="none"/><path d="M280.25 745.80L289.05 754.60M280.25 754.60L289.05 745.80M284.65 745.80L284.65 754.60" stroke="#7c7c7c" stroke-width="1.35" fill="none"/><path d="M289.17 734.40L297.97 743.20M289.17 743.20L297.97 734.40M293.57 734.40L293.57 743.20" stroke="#7c7c7c" stroke-width="1.35" fill="none"/><path d="M298.08 724.40L306.88 733.20M298.08 733.20L306.88 724.40M302.48 724.40L302.48 733.20" stroke="#7c7c7c" stroke-width="1.35" fill="none"/><path d="M307.00 713.50L315.80 722.30M307.00 722.30L315.80 713.50M311.40 713.50L311.40 722.30" stroke="#7c7c7c" stroke-width="1.35" fill="none"/><path d="M315.92 704.30L324.72 713.10M315.92 713.10L324.72 704.30M320.32 704.30L320.32 713.10" stroke="#7c7c7c" stroke-width="1.35" fill="none"/><path d="M324.83 695.70L333.63 704.50M324.83 704.50L333.63 695.70M329.23 695.70L329.23 704.50" stroke="#7c7c7c" stroke-width="1.35" fill="none"/><path d="M333.75 687.20L342.55 696.00M333.75 696.00L342.55 687.20M338.15 687.20L338.15 696.00" stroke="#7c7c7c" stroke-width="1.35" fill="none"/><path d="M342.66 680.00L351.46 688.80M342.66 688.80L351.46 680.00M347.06 680.00L347.06 688.80" stroke="#7c7c7c" stroke-width="1.35" fill="none"/><path d="M351.58 672.90L360.38 681.70M351.58 681.70L360.38 672.90M355.98 672.90L355.98 681.70" stroke="#7c7c7c" stroke-width="1.35" fill="none"/><path d="M360.50 665.70L369.30 674.50M360.50 674.50L369.30 665.70M364.90 665.70L364.90 674.50" stroke="#7c7c7c" stroke-width="1.35" fill="none"/><path d="M369.41 659.10L378.21 667.90M369.41 667.90L378.21 659.10M373.81 659.10L373.81 667.90" stroke="#7c7c7c" stroke-width="1.35" fill="none"/><path d="M378.33 653.40L387.13 662.20M378.33 662.20L387.13 653.40M382.73 653.40L382.73 662.20" stroke="#7c7c7c" stroke-width="1.35" fill="none"/><path d="M387.24 648.50L396.04 657.30M387.24 657.30L396.04 648.50M391.64 648.50L391.64 657.30" stroke="#7c7c7c" stroke-width="1.35" fill="none"/><path d="M396.16 643.70L404.96 652.50M396.16 652.50L404.96 643.70M400.56 643.70L400.56 652.50" stroke="#7c7c7c" stroke-width="1.35" fill="none"/><path d="M405.08 639.90L413.88 648.70M405.08 648.70L413.88 639.90M409.48 639.90L409.48 648.70" stroke="#7c7c7c" stroke-width="1.35" fill="none"/><path d="M413.99 636.60L422.79 645.40M413.99 645.40L422.79 636.60M418.39 636.60L418.39 645.40" stroke="#7c7c7c" stroke-width="1.35" fill="none"/><path d="M422.91 633.90L431.71 642.70M422.91 642.70L431.71 633.90M427.31 633.90L427.31 642.70" stroke="#7c7c7c" stroke-width="1.35" fill="none"/><path d="M431.82 630.90L440.62 639.70M431.82 639.70L440.62 630.90M436.22 630.90L436.22 639.70" stroke="#7c7c7c" stroke-width="1.35" fill="none"/><path d="M440.74 628.10L449.54 636.90M440.74 636.90L449.54 628.10M445.14 628.10L445.14 636.90" stroke="#7c7c7c" stroke-width="1.35" fill="none"/><path d="M449.66 625.73L458.46 634.52M449.66 634.52L458.46 625.73M454.06 625.73L454.06 634.52" stroke="#7c7c7c" stroke-width="1.35" fill="none"/><path d="M458.57 623.35L467.37 632.15M458.57 632.15L467.37 623.35M462.97 623.35L462.97 632.15" stroke="#7c7c7c" stroke-width="1.35" fill="none"/><path d="M467.49 620.98L476.29 629.77M467.49 629.77L476.29 620.98M471.89 620.98L471.89 629.77" stroke="#7c7c7c" stroke-width="1.35" fill="none"/><path d="M476.40 618.60L485.20 627.40M476.40 627.40L485.20 618.60M480.80 618.60L480.80 627.40" stroke="#7c7c7c" stroke-width="1.35" fill="none"/><path d="M485.32 616.90L494.12 625.70M485.32 625.70L494.12 616.90M489.72 616.90L489.72 625.70" stroke="#7c7c7c" stroke-width="1.35" fill="none"/><path d="M494.24 615.52L503.04 624.32M494.24 624.32L503.04 615.52M498.64 615.52L498.64 624.32" stroke="#7c7c7c" stroke-width="1.35" fill="none"/><path d="M503.15 614.14L511.95 622.94M503.15 622.94L511.95 614.14M507.55 614.14L507.55 622.94" stroke="#7c7c7c" stroke-width="1.35" fill="none"/><path d="M512.07 612.76L520.87 621.56M512.07 621.56L520.87 612.76M516.47 612.76L516.47 621.56" stroke="#7c7c7c" stroke-width="1.35" fill="none"/><path d="M520.98 611.38L529.78 620.18M520.98 620.18L529.78 611.38M525.38 611.38L525.38 620.18" stroke="#7c7c7c" stroke-width="1.35" fill="none"/><path d="M529.90 610.00L538.70 618.80M529.90 618.80L538.70 610.00M534.30 610.00L534.30 618.80" stroke="#7c7c7c" stroke-width="1.35" fill="none"/><path d="M538.82 609.22L547.62 618.02M538.82 618.02L547.62 609.22M543.22 609.22L543.22 618.02" stroke="#7c7c7c" stroke-width="1.35" fill="none"/><path d="M547.73 608.44L556.53 617.24M547.73 617.24L556.53 608.44M552.13 608.44L552.13 617.24" stroke="#7c7c7c" stroke-width="1.35" fill="none"/><path d="M556.65 607.66L565.45 616.46M556.65 616.46L565.45 607.66M561.05 607.66L561.05 616.46" stroke="#7c7c7c" stroke-width="1.35" fill="none"/><path d="M565.56 606.88L574.36 615.68M565.56 615.68L574.36 606.88M569.96 606.88L569.96 615.68" stroke="#7c7c7c" stroke-width="1.35" fill="none"/><path d="M574.48 606.10L583.28 614.90M574.48 614.90L583.28 606.10M578.88 606.10L578.88 614.90" stroke="#7c7c7c" stroke-width="1.35" fill="none"/><path d="M583.40 605.52L592.20 614.32M583.40 614.32L592.20 605.52M587.80 605.52L587.80 614.32" stroke="#7c7c7c" stroke-width="1.35" fill="none"/><path d="M592.31 604.95L601.11 613.75M592.31 613.75L601.11 604.95M596.71 604.95L596.71 613.75" stroke="#7c7c7c" stroke-width="1.35" fill="none"/><path d="M601.23 604.38L610.03 613.18M601.23 613.18L610.03 604.38M605.63 604.38L605.63 613.18" stroke="#7c7c7c" stroke-width="1.35" fill="none"/><path d="M610.14 603.80L618.94 612.60M610.14 612.60L618.94 603.80M614.54 603.80L614.54 612.60" stroke="#7c7c7c" stroke-width="1.35" fill="none"/><rect x="465.6" y="279.3" width="163.3" height="131.0" fill="#fff" stroke="#888" stroke-width="1.2"/><line x1="489.4" y1="290.6" x2="523.3" y2="290.6" stroke="#6a6a6a" stroke-width="2.0"/><path d="M506.35 286.30L510.65 290.60L506.35 294.90L502.05 290.60Z" fill="#6a6a6a"/><text x="526.5" y="296.6" style="font-family:'Liberation Serif',serif;font-size:20px;fill:#111">Control</text><line x1="489.4" y1="312.4" x2="523.3" y2="312.4" stroke="#666666" stroke-width="2.6"/><rect x="502.05" y="308.10" width="8.60" height="8.60" fill="#666666"/><text x="526.5" y="318.4" style="font-family:'Liberation Serif',serif;font-size:20px;fill:#111">Paclitaxel</text><line x1="489.4" y1="334.8" x2="523.3" y2="334.8" stroke="#9b9b9b" stroke-width="2.0"/><path d="M506.35 330.30L510.35 338.75L502.35 338.75Z" fill="#9b9b9b" stroke="#909090" stroke-width="0.7" stroke-linejoin="miter"/><text x="526.5" y="341.0" style="font-family:'Liberation Serif',serif;font-size:20px;fill:#111">2 µM</text><line x1="489.4" y1="356.8" x2="523.3" y2="356.8" stroke="#505050" stroke-width="1.8"/><path d="M502.05 352.50L510.65 361.10M502.05 361.10L510.65 352.50" stroke="#505050" stroke-width="1.20" fill="none"/><text x="526.5" y="362.8" style="font-family:'Liberation Serif',serif;font-size:20px;fill:#111">5 µM</text><line x1="489.4" y1="379.0" x2="523.3" y2="379.0" stroke="#8c8c8c" stroke-width="1.8"/><path d="M502.05 374.70L510.65 383.30M502.05 383.30L510.65 374.70M506.35 374.70L506.35 383.30" stroke="#8c8c8c" stroke-width="1.20" fill="none"/><text x="526.5" y="385.0" style="font-family:'Liberation Serif',serif;font-size:20px;fill:#111">10 µM</text><line x1="489.4" y1="401.0" x2="523.3" y2="401.0" stroke="#9b9b9b" stroke-width="2.0"/><circle cx="506.35" cy="401.00" r="4.30" fill="#9b9b9b"/><text x="526.5" y="407.4" style="font-family:'Liberation Serif',serif;font-size:20px;fill:#111">20 µM</text><rect x="482.2" y="785.9" width="141.7" height="118.0" fill="#fff" stroke="#888" stroke-width="1.2"/><line x1="494.3" y1="798.8" x2="529.1" y2="798.8" stroke="#6a6a6a" stroke-width="2.0"/><path d="M511.70 794.50L516.00 798.80L511.70 803.10L507.40 798.80Z" fill="#6a6a6a"/><text x="532.0" y="804.4" style="font-family:'Liberation Serif',serif;font-size:20px;fill:#111">Control</text><line x1="494.3" y1="821.7" x2="529.1" y2="821.7" stroke="#666666" stroke-width="2.6"/><rect x="507.40" y="817.40" width="8.60" height="8.60" fill="#666666"/><text x="532.0" y="827.5" style="font-family:'Liberation Serif',serif;font-size:20px;fill:#111">Paclitaxel</text><line x1="494.3" y1="845.5" x2="529.1" y2="845.5" stroke="#9b9b9b" stroke-width="2.0"/><path d="M511.70 841.00L515.70 849.45L507.70 849.45Z" fill="#9b9b9b" stroke="#909090" stroke-width="0.7" stroke-linejoin="miter"/><text x="532.0" y="851.0" style="font-family:'Liberation Serif',serif;font-size:20px;fill:#111">2 µM</text><line x1="494.3" y1="869.1" x2="529.1" y2="869.1" stroke="#505050" stroke-width="1.8"/><path d="M507.40 864.80L516.00 873.40M507.40 873.40L516.00 864.80" stroke="#505050" stroke-width="1.20" fill="none"/><text x="532.0" y="874.4" style="font-family:'Liberation Serif',serif;font-size:20px;fill:#111">5 µM</text><line x1="494.3" y1="893.0" x2="529.1" y2="893.0" stroke="#7c7c7c" stroke-width="1.8"/><path d="M507.40 888.70L516.00 897.30M507.40 897.30L516.00 888.70M511.70 888.70L511.70 897.30" stroke="#7c7c7c" stroke-width="1.20" fill="none"/><text x="532.0" y="898.0" style="font-family:'Liberation Serif',serif;font-size:20px;fill:#111">10µM</text></svg></body></html>
